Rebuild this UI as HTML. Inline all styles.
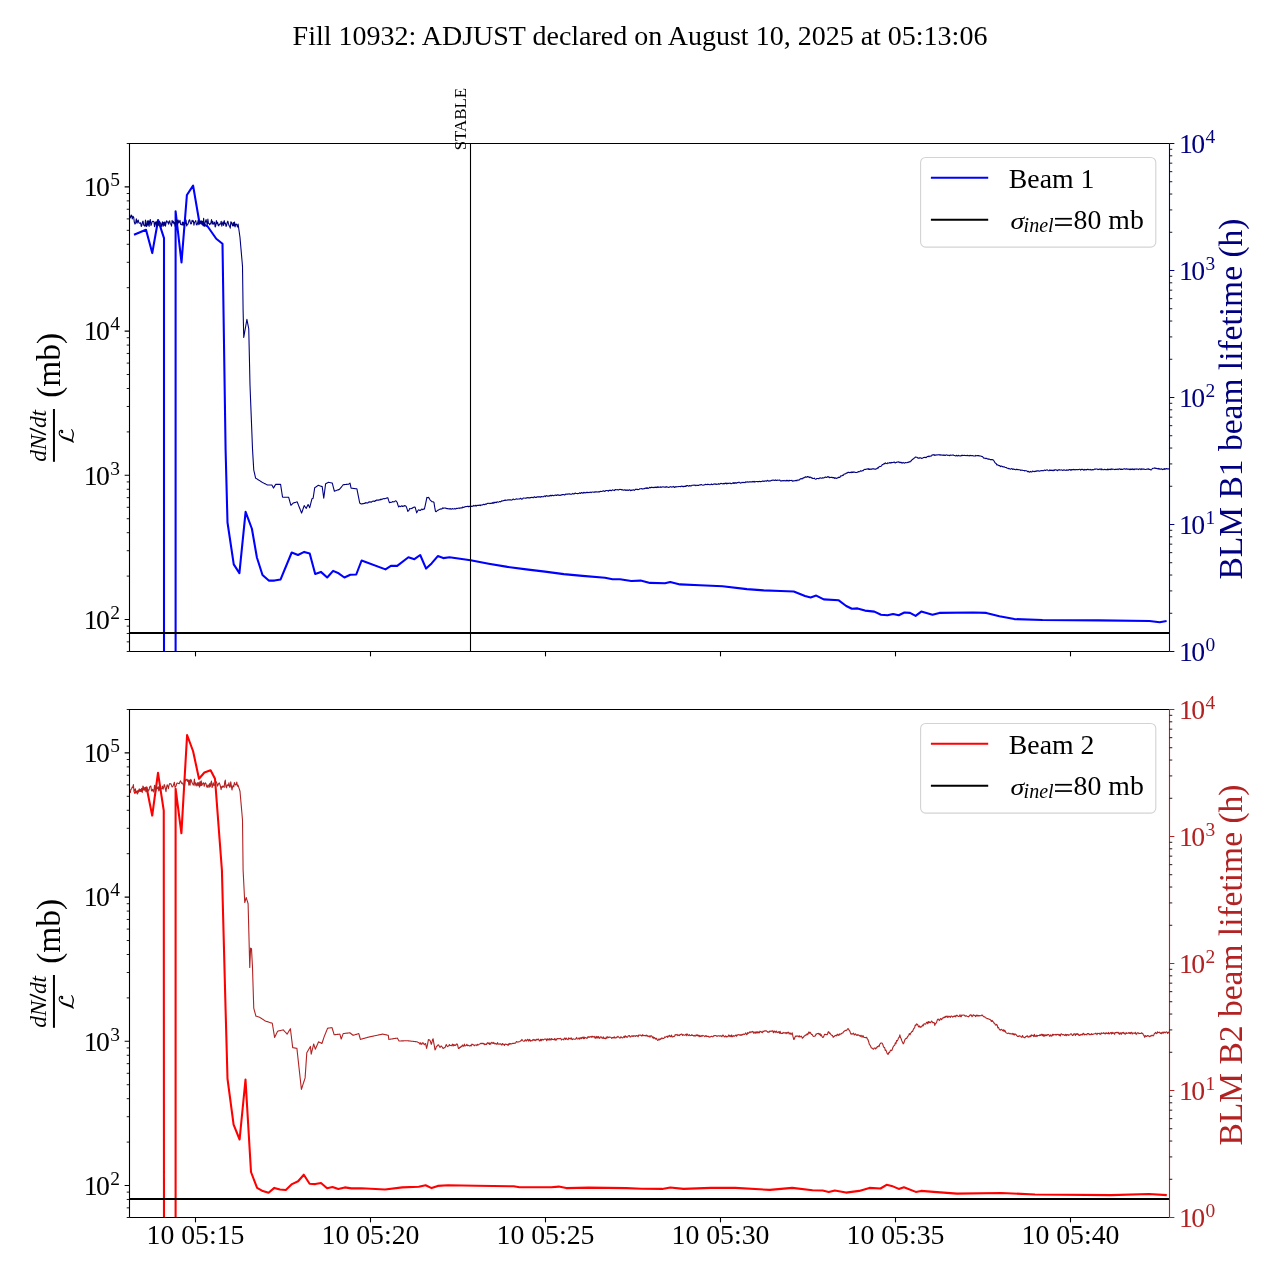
<!DOCTYPE html>
<html><head><meta charset="utf-8"><title>Fill 10932</title>
<style>html,body{margin:0;padding:0;background:#fff;width:1280px;height:1280px;overflow:hidden}svg{display:block;will-change:transform}</style>
</head><body>
<svg width="1280" height="1280" viewBox="0 0 1280 1280">
<rect width="1280" height="1280" fill="#fff"/>
<defs><clipPath id="c0"><rect x="129.5" y="143.5" width="1040.0" height="508"/></clipPath><clipPath id="c1"><rect x="129.5" y="709.5" width="1040.0" height="508"/></clipPath></defs>
<text x="640" y="44.8" text-anchor="middle" font-family="'Liberation Serif', serif" font-size="28" fill="#000">Fill 10932: ADJUST declared on August 10, 2025 at 05:13:06</text>
<g clip-path="url(#c0)">
<path d="M134 234.75 L146 229.75 L152.25 253.1 L158.1 220 L164 238.1 L164 720 L175.6 720 L175.6 211.25 L181.5 262.5 L186.9 195 L193.1 185.6 L199.4 222.5 L207.5 226.25 L216.25 238.75 L222.5 243.75 L225.6 450 L227.5 522.5 L233.75 564.4 L239.4 573.1 L245.6 511.9 L251.9 528.75 L256.9 557.5 L262.5 575 L268.75 580.6 L274.4 580.6 L280.6 579.4 L291.7 552.5 L298 555 L304.2 551.9 L309.7 553.4 L315.2 574 L320.9 571.9 L327.2 577.5 L333.1 570.9 L338.6 573.3 L344.4 577.5 L350.3 574.8 L356.25 574.5 L361.6 560.5 L385.5 569.4 L390.9 565.9 L397.2 565.9 L408.4 557.2 L414.4 559.2 L420.2 555 L426.1 568.6 L431.6 563.4 L437.8 556.1 L443.3 558.1 L449.5 557.3 L470.6 560.3 L488.75 563.75 L507.5 566.9 L526.25 569.4 L545 571.6 L563.75 574.1 L582.5 575.9 L605 577.8 L612.5 579.3 L620 579.3 L631.25 581 L640.6 580.6 L650 582.9 L665 583.25 L670.25 582.1 L680 584.4 L700 585.3 L722.5 586.25 L746.9 589.1 L763.75 590.4 L780.6 591 L793.75 591.5 L805 596 L810.6 597.5 L816.25 595.6 L823.75 599.4 L838.75 600.3 L846.25 606 L851.9 608.75 L857.5 608.4 L865 610.6 L874.4 611.6 L881 614.75 L887.5 615.3 L893.1 614 L898.75 615.3 L904.4 612.5 L910 612.9 L915.6 615.9 L921.25 611.6 L932.5 614.75 L939.4 612.9 L973.1 612.5 L986.25 612.9 L999.4 616.25 L1014.4 619.1 L1042.5 620 L1098.75 620.4 L1149.4 621 L1159.7 622.25 L1166.6 621" fill="none" stroke="#0000ff" stroke-width="2.08" stroke-linejoin="round"/>
<line x1="129.5" y1="633" x2="1169.5" y2="633" stroke="#000" stroke-width="2.08"/>
<path d="M129.5 214.1 L130.2 218.03 L130.9 216.29 L131.6 215.14 L132.3 218.91 L133 216.4 L133.67 217.05 L134.33 222.31 L135 224.09 L135.67 222.65 L136.33 218.83 L137 223.29 L137.61 221.04 L138.21 220.05 L138.82 222.7 L139.42 223.23 L140.03 223.13 L140.63 222.88 L141.24 226.37 L141.84 225.39 L142.45 222.05 L143.05 221.1 L143.66 224.99 L144.26 225.53 L144.87 226.27 L145.47 220.17 L146.08 226.02 L146.68 226.5 L147.29 220.71 L147.89 225.26 L148.5 220.86 L149.11 226.5 L149.71 221.11 L150.32 219.49 L150.92 225.51 L151.53 224.01 L152.13 221.68 L152.74 221.32 L153.34 221.26 L153.95 221.9 L154.55 226.78 L155.16 222.54 L155.76 221.96 L156.37 226.11 L156.97 221.31 L157.58 222.06 L158.18 225.67 L158.79 221.86 L159.39 221.35 L160 222.36 L160.61 223.15 L161.21 226.88 L161.82 224.39 L162.42 221.85 L163.03 226.46 L163.64 222.21 L164.24 225.32 L164.85 221.82 L165.45 226.17 L166.06 222.89 L166.67 220.71 L167.27 221.96 L167.88 222.05 L168.48 224.19 L169.09 221.47 L169.7 220.76 L170.3 223.86 L170.91 224.19 L171.52 226.1 L172.12 220.3 L172.73 222.81 L173.33 221.26 L173.94 223.76 L174.55 222.39 L175.15 226.32 L175.76 224.44 L176.36 219.5 L176.97 220.07 L177.58 224.41 L178.18 220.03 L178.79 222.95 L179.39 221.87 L180 220.28 L180.61 224.5 L181.21 224.49 L181.82 224.83 L182.42 221.99 L183.03 225.49 L183.64 222.38 L184.24 225.22 L184.85 223.68 L185.45 223.39 L186.06 220.16 L186.67 225.99 L187.27 224.28 L187.88 224.31 L188.48 222.41 L189.09 220.11 L189.7 219.75 L190.3 222.62 L190.91 224 L191.52 223.44 L192.12 220.2 L192.73 221.41 L193.33 220.76 L193.94 225.25 L194.55 222.26 L195.15 221.51 L195.76 220.68 L196.36 224.55 L196.97 225.01 L197.58 223.09 L198.18 220.22 L198.79 224.69 L199.39 223.87 L200 221.07 L200.61 222.2 L201.21 220.7 L201.82 223.35 L202.42 221.38 L203.03 225.66 L203.64 218.24 L204.24 226.42 L204.85 223.96 L205.45 221.41 L206.06 219.57 L206.67 222.2 L207.27 224.79 L207.88 219.02 L208.48 223.54 L209.09 223.56 L209.7 224.71 L210.3 223.94 L210.91 222.61 L211.52 219.66 L212.12 224.17 L212.73 221.36 L213.33 224.1 L213.94 223.58 L214.55 222.18 L215.15 227.04 L215.76 225.66 L216.36 220.54 L216.97 223.73 L217.58 222.15 L218.18 225.38 L218.79 225.81 L219.39 223.95 L220 224.42 L220.6 223.94 L221.21 221.23 L221.81 226.18 L222.41 223.37 L223.02 222.02 L223.62 225.48 L224.22 220.56 L224.83 223.59 L225.43 223.17 L226.03 226.5 L226.64 225.29 L227.24 222.34 L227.84 221.13 L228.45 223.57 L229.05 225.68 L229.65 226.39 L230.26 228.17 L230.86 221.82 L231.46 222.29 L232.07 224.56 L232.67 225.9 L233.27 222.53 L233.88 225.98 L234.48 221.93 L235.08 226.83 L235.69 224.33 L236.29 224.13 L236.89 225.01 L237.5 226.97 L238.1 224 L238.73 228.5 L239.37 233 L240 237.5 L240.62 244.69 L241.25 251.88 L241.88 259.06 L242.5 266.25 L243.1 310 L243.75 337.5 L244.38 333.88 L245.01 330.26 L245.64 326.64 L246.27 323.02 L246.9 319.4 L247.52 322.52 L248.13 325.63 L248.75 328.75 L249.38 356.88 L250 385 L250.62 400.94 L251.25 416.88 L251.88 432.81 L252.5 448.75 L253.12 459.38 L253.75 470 L254.37 472.7 L254.98 475.4 L255.6 478.1 L256.23 478.5 L256.85 478.9 L257.48 479.3 L258.11 479.7 L258.74 480.1 L259.36 480.5 L259.99 480.9 L260.62 481.3 L261.25 481.7 L261.87 482.1 L262.5 482.5 L263.12 482.81 L263.75 483.12 L264.38 483.44 L265 483.75 L265.62 484.06 L266.25 484.38 L266.88 484.69 L267.5 485 L268.13 485 L268.76 485 L269.39 485 L270.01 485 L270.64 485 L271.27 485 L271.9 485 L272.7 486.55 L273.5 488.1 L274.2 486.87 L274.9 485.63 L275.6 484.4 L276.23 484.4 L276.85 484.4 L277.48 484.4 L278.1 484.4 L278.73 484.4 L279.35 484.4 L279.98 484.4 L280.6 484.4 L281.23 488.57 L281.87 492.73 L282.5 496.9 L283.1 497.2 L283.71 497.2 L284.32 497.2 L284.93 497.2 L285.54 497.2 L286.16 497.2 L286.77 497.2 L287.38 497.2 L287.99 497.2 L288.6 497.2 L289.37 499.9 L290.13 502.6 L290.9 505.3 L291.5 504.73 L292.1 504.15 L292.7 503.57 L293.3 503 L293.95 502.82 L294.6 502.63 L295.25 502.45 L295.9 502.27 L296.55 502.08 L297.2 501.9 L297.83 503.5 L298.46 505.1 L299.09 506.7 L299.71 508.3 L300.34 509.9 L300.97 511.5 L301.6 513.1 L302.25 511.23 L302.9 509.35 L303.55 507.48 L304.2 505.6 L304.88 506.53 L305.57 507.47 L306.25 508.4 L306.87 507.1 L307.48 505.8 L308.1 504.5 L308.9 506.1 L309.7 507.7 L310.47 504.72 L311.23 501.73 L312 498.75 L313.1 498.3 L313.9 493.05 L314.7 487.8 L315.3 487.38 L315.9 486.97 L316.5 486.55 L317.1 486.13 L317.7 485.72 L318.3 485.3 L318.95 485.52 L319.6 485.73 L320.25 485.95 L320.9 486.17 L321.55 486.38 L322.2 486.6 L322.98 492.45 L323.75 498.3 L324.37 493.45 L324.98 488.6 L325.6 483.75 L326.3 483.39 L327 483.02 L327.7 482.66 L328.4 482.3 L329.05 482.43 L329.7 482.57 L330.35 482.7 L331 482.83 L331.65 482.97 L332.3 483.1 L333 485.82 L333.7 488.53 L334.4 491.25 L335.02 491.02 L335.65 490.79 L336.27 490.56 L336.9 490.32 L337.52 490.09 L338.15 489.86 L338.77 489.63 L339.4 489.4 L340.05 488.62 L340.7 487.83 L341.35 487.05 L342 486.27 L342.65 485.48 L343.3 484.7 L343.91 484.64 L344.51 484.59 L345.12 484.53 L345.72 484.48 L346.33 484.42 L346.93 484.37 L347.54 484.31 L348.14 484.26 L348.75 484.2 L349.38 483.65 L350 483.1 L351.1 488.1 L351.74 488.19 L352.39 488.28 L353.03 488.37 L353.68 488.46 L354.32 488.54 L354.97 488.63 L355.61 488.72 L356.26 488.81 L356.9 488.9 L357.6 492.42 L358.3 495.95 L359 499.48 L359.7 503 L360.48 503.5 L361.25 504 L361.85 503.86 L362.46 503.63 L363.06 503.89 L363.66 503.52 L364.27 503.31 L364.87 503.37 L365.47 502.61 L366.08 502.95 L366.68 502.69 L367.28 503.09 L367.89 502.92 L368.49 502.13 L369.09 502.2 L369.7 501.72 L370.3 501.89 L370.9 502.13 L371.51 502.08 L372.11 501.52 L372.71 501.23 L373.32 500.96 L373.92 501.25 L374.52 501.43 L375.13 500.49 L375.73 501.01 L376.34 500.11 L376.94 500.15 L377.54 500.05 L378.15 500.37 L378.75 499.87 L379.35 499.76 L379.96 499.89 L380.56 499.24 L381.16 499.73 L381.77 498.99 L382.37 499.24 L382.97 498.84 L383.58 498.65 L384.18 498.85 L384.78 498.62 L385.39 498.42 L385.99 498.32 L386.59 498.3 L387.2 497.8 L387.8 497.7 L388.6 500.38 L389.4 502.64 L390.04 502.38 L390.67 502.56 L391.31 502.18 L391.95 502.27 L392.58 501.51 L393.22 501.87 L393.85 501.79 L394.49 501.74 L395.13 501.01 L395.76 500.86 L396.4 501.32 L397.18 502.52 L397.97 505.2 L398.75 506.99 L399.39 506.16 L400.03 506.19 L400.67 506.61 L401.31 506.07 L401.95 505.83 L402.6 506.5 L403.24 506.01 L403.88 506.31 L404.52 505.57 L405.16 505.78 L405.8 505.99 L406.47 507.13 L407.13 509.13 L407.8 511.43 L408.43 510.88 L409.07 510.15 L409.7 508.52 L410.31 508.73 L410.92 508.8 L411.53 508.37 L412.14 508.37 L412.76 507.7 L413.37 507.4 L413.98 507.26 L414.59 507.02 L415.2 507.35 L415.95 510.06 L416.7 512.87 L417.5 511.2 L418.3 509.98 L418.92 509.86 L419.54 510.36 L420.16 510.37 L420.78 510.17 L421.4 509.2 L422.02 509.02 L422.64 509.77 L423.26 509.14 L423.88 509.3 L424.5 508.73 L425.3 505.07 L426.1 501.32 L426.9 497.43 L427.67 497.77 L428.43 497.35 L429.2 498.2 L430 499.79 L430.8 500.58 L431.42 501.17 L432.04 501.78 L432.66 501.77 L433.28 501.88 L433.9 502.17 L434.7 507.21 L435.5 511.42 L436.27 511.66 L437.03 510.94 L437.8 510.2 L438.42 510.13 L439.04 509.67 L439.66 509.21 L440.28 509.18 L440.9 508.85 L441.52 509.1 L442.14 508.69 L442.76 507.92 L443.38 508.34 L444 507.94 L444.61 508.09 L445.22 508.25 L445.82 507.95 L446.43 508.56 L447.04 508.66 L447.65 508.59 L448.25 508.77 L448.86 508.89 L449.47 508.64 L450.08 509.08 L450.68 508.54 L451.29 508.93 L451.9 509.17 L452.5 508.61 L453.11 508.86 L453.71 509.04 L454.31 508.92 L454.92 508.43 L455.52 509.04 L456.12 508.67 L456.73 508.24 L457.33 508.46 L457.93 508.27 L458.54 508.13 L459.14 507.89 L459.74 508.4 L460.35 507.94 L460.95 507.9 L461.55 507.86 L462.16 507.98 L462.76 506.92 L463.36 507.42 L463.97 507.44 L464.57 506.86 L465.17 506.9 L465.78 506.45 L466.38 506.5 L466.98 506.58 L467.59 506.2 L468.19 506.25 L468.79 506.81 L469.4 506.35 L470 506.21 L470.62 506.61 L471.25 506.16 L471.88 506.53 L472.5 506.11 L473.12 506.23 L473.75 505.44 L474.38 505.9 L475 506.01 L475.62 505.24 L476.25 506.07 L476.88 505.24 L477.5 505.5 L478.12 505.14 L478.75 505.41 L479.38 505.47 L480 504.86 L480.61 505.63 L481.22 504.99 L481.83 504.97 L482.44 504.93 L483.06 504.58 L483.67 504.38 L484.28 504.63 L484.89 504.42 L485.5 504.02 L486.11 504.34 L486.72 503.8 L487.33 503.4 L487.94 503.51 L488.56 503.19 L489.17 503.19 L489.78 503.67 L490.39 503.19 L491 503.58 L491.61 503.31 L492.22 502.49 L492.83 503.32 L493.44 503.15 L494.06 502.16 L494.67 502.88 L495.28 502.29 L495.89 502.22 L496.5 502.59 L497.11 501.75 L497.72 501.91 L498.33 502.2 L498.94 501.87 L499.56 501.5 L500.17 501.89 L500.78 501.61 L501.39 501.28 L502 500.68 L502.61 501.07 L503.22 500.78 L503.83 500.41 L504.44 500.14 L505.06 500.5 L505.67 499.98 L506.28 500.18 L506.89 500.29 L507.5 499.96 L508.1 499.7 L508.71 499.96 L509.31 499.74 L509.92 500.04 L510.52 499.73 L511.13 500.13 L511.73 500.03 L512.34 499.75 L512.94 499.19 L513.55 499.01 L514.15 499.73 L514.76 499.56 L515.36 499.34 L515.97 499.01 L516.57 498.86 L517.18 499.22 L517.78 499.04 L518.39 499 L518.99 498.98 L519.6 499.04 L520.2 498.42 L520.81 498.42 L521.41 499.09 L522.02 498.96 L522.62 498.87 L523.23 497.97 L523.83 497.93 L524.44 498.08 L525.04 498.17 L525.65 498.31 L526.25 497.73 L526.85 498.11 L527.46 497.58 L528.06 497.53 L528.67 498.06 L529.27 497.87 L529.88 497.89 L530.48 497.57 L531.09 497.62 L531.69 497.29 L532.3 497.36 L532.9 497.7 L533.51 497.74 L534.11 496.91 L534.72 496.9 L535.32 497.53 L535.93 497.28 L536.53 497.37 L537.14 496.75 L537.74 496.9 L538.35 496.67 L538.95 497.16 L539.56 496.66 L540.16 496.89 L540.77 497.16 L541.37 496.44 L541.98 496.6 L542.58 496.74 L543.19 496.85 L543.79 496.3 L544.4 496.18 L545 495.85 L545.6 496.57 L546.21 495.72 L546.81 495.67 L547.42 496.1 L548.02 495.96 L548.63 496.11 L549.23 495.67 L549.84 496.09 L550.44 495.34 L551.05 495.42 L551.65 495.82 L552.26 495.18 L552.86 495.35 L553.47 495.72 L554.07 495.63 L554.68 495.17 L555.28 494.97 L555.89 495.14 L556.49 495.45 L557.1 495.04 L557.7 494.73 L558.31 495.27 L558.91 495.08 L559.52 495.37 L560.12 495.34 L560.73 495.26 L561.33 494.73 L561.94 495.04 L562.54 494.49 L563.15 494.45 L563.75 494.47 L564.35 494.96 L564.96 494.86 L565.56 494.16 L566.17 494.22 L566.77 494.17 L567.38 494.11 L567.98 494.09 L568.59 494.03 L569.19 493.78 L569.8 494.1 L570.4 494.28 L571.01 493.97 L571.61 494.21 L572.22 493.88 L572.82 493.44 L573.43 493.97 L574.03 494.04 L574.64 493.38 L575.24 493.07 L575.85 493.51 L576.45 493.48 L577.06 493.45 L577.66 493.8 L578.27 493.43 L578.87 493.53 L579.48 492.73 L580.08 493.16 L580.69 493.35 L581.29 492.59 L581.9 492.54 L582.5 493.14 L583.1 493.25 L583.71 492.38 L584.31 492.88 L584.92 492.34 L585.52 492.89 L586.13 492.74 L586.73 492.28 L587.34 492.21 L587.94 492.7 L588.55 492.41 L589.15 492.6 L589.76 492.18 L590.36 492.07 L590.97 492.65 L591.57 492.3 L592.18 492.07 L592.78 492.06 L593.39 492.19 L593.99 492.13 L594.6 492.28 L595.2 491.73 L595.81 492.09 L596.41 491.88 L597.02 492.01 L597.62 491.92 L598.23 491.89 L598.83 491.9 L599.44 491.91 L600.04 491.54 L600.65 491.38 L601.25 491.51 L601.85 491.55 L602.46 491.12 L603.06 491.07 L603.67 490.74 L604.27 491.28 L604.88 491.48 L605.48 490.81 L606.09 490.55 L606.69 490.54 L607.3 490.71 L607.9 490.52 L608.51 491.15 L609.11 490.19 L609.72 490.39 L610.32 490.14 L610.93 490.62 L611.53 490.7 L612.14 490.05 L612.74 489.88 L613.35 490.23 L613.95 490.3 L614.56 490.57 L615.16 489.65 L615.77 489.67 L616.37 489.69 L616.98 489.68 L617.58 489.64 L618.19 490.07 L618.79 489.9 L619.4 489.48 L620 489.38 L620.62 489.51 L621.25 489.43 L621.88 490.05 L622.5 489.63 L623.12 489.9 L623.75 490.2 L624.38 489.89 L625 489.7 L625.62 490.36 L626.25 490.42 L626.88 489.88 L627.5 490.11 L628.12 490.55 L628.75 490.11 L629.38 489.88 L630 489.74 L630.62 490.67 L631.25 490.55 L631.86 490.05 L632.47 490.12 L633.07 490.02 L633.68 489.7 L634.29 490.33 L634.9 489.92 L635.51 489.42 L636.11 489.11 L636.72 489.49 L637.33 489.31 L637.94 489.65 L638.55 489.49 L639.16 489.3 L639.76 488.77 L640.37 488.69 L640.98 488.77 L641.59 488.63 L642.2 489.16 L642.8 488.73 L643.41 488.77 L644.02 489.04 L644.63 488.23 L645.24 488.42 L645.84 487.95 L646.45 488.49 L647.06 487.64 L647.67 488.38 L648.28 488.33 L648.89 488.22 L649.49 487.4 L650.1 487.51 L650.71 487.87 L651.32 487.17 L651.93 487.47 L652.53 487.38 L653.14 487.79 L653.75 487.34 L654.36 487.6 L654.97 487.03 L655.57 487.51 L656.18 487.13 L656.79 487.62 L657.4 486.78 L658.01 487.51 L658.61 486.88 L659.22 487.21 L659.83 487.18 L660.44 486.8 L661.05 487.47 L661.66 486.94 L662.26 486.93 L662.87 486.68 L663.48 486.9 L664.09 487.06 L664.7 487.29 L665.3 486.93 L665.91 487.25 L666.52 486.66 L667.13 486.94 L667.74 486.99 L668.34 487.49 L668.95 487.34 L669.56 487.16 L670.17 486.51 L670.78 486.86 L671.39 487.19 L671.99 486.7 L672.6 487.02 L673.21 486.91 L673.82 486.45 L674.43 487.42 L675.03 487.22 L675.64 486.62 L676.25 487.02 L676.86 486.64 L677.47 486.68 L678.08 486.79 L678.69 486.5 L679.29 486.49 L679.9 486.5 L680.51 486.73 L681.12 486.27 L681.73 486.16 L682.34 486.64 L682.95 486.19 L683.56 486.76 L684.17 486.33 L684.78 486.44 L685.38 486 L685.99 486.45 L686.6 485.66 L687.21 485.66 L687.82 485.57 L688.43 486.1 L689.04 486.09 L689.65 485.51 L690.26 485.68 L690.87 486.07 L691.47 485.77 L692.08 485.22 L692.69 485.31 L693.3 485.19 L693.91 485.11 L694.52 485.35 L695.13 484.96 L695.74 485.76 L696.35 485.22 L696.96 485.26 L697.56 485.34 L698.17 485.41 L698.78 485.42 L699.39 484.93 L700 484.83 L700.6 484.88 L701.2 484.44 L701.8 484.79 L702.41 485.06 L703.01 485.3 L703.61 485.07 L704.21 484.91 L704.81 484.82 L705.41 484.2 L706.01 484.47 L706.61 484.45 L707.22 484.72 L707.82 484.14 L708.42 484.38 L709.02 484.47 L709.62 484.71 L710.22 484.71 L710.82 484.47 L711.42 483.98 L712.03 484.55 L712.63 484.65 L713.23 484.26 L713.83 484.03 L714.43 484.14 L715.03 483.74 L715.63 484.28 L716.23 484.52 L716.84 484.01 L717.44 484.17 L718.04 484.26 L718.64 483.58 L719.24 484.3 L719.84 483.94 L720.44 483.48 L721.04 483.33 L721.65 483.45 L722.25 483.75 L722.85 483.83 L723.45 483.43 L724.05 483.99 L724.65 483.39 L725.25 483.46 L725.86 483.08 L726.46 483.89 L727.06 483.02 L727.66 483.75 L728.26 483.36 L728.86 483.34 L729.46 483.3 L730.06 482.97 L730.67 483.58 L731.27 483.63 L731.87 483.41 L732.47 483.16 L733.07 482.65 L733.67 483.31 L734.27 482.74 L734.87 483.31 L735.48 482.62 L736.08 482.92 L736.68 483.14 L737.28 482.46 L737.88 482.79 L738.48 482.28 L739.08 482.2 L739.68 482.31 L740.29 483.08 L740.89 483 L741.49 482.68 L742.09 482.29 L742.69 482.62 L743.29 482.65 L743.89 482.26 L744.49 482.44 L745.1 482.61 L745.7 481.79 L746.3 481.94 L746.9 482.17 L747.51 481.8 L748.12 482 L748.73 482.15 L749.34 481.71 L749.95 482.01 L750.57 481.72 L751.18 481.98 L751.79 481.7 L752.4 481.97 L753.01 481.32 L753.62 481.92 L754.23 481.35 L754.84 482.12 L755.45 481.72 L756.06 481.55 L756.67 481.45 L757.28 481.62 L757.9 481.65 L758.51 481.67 L759.12 481.63 L759.73 481.32 L760.34 481.79 L760.95 481.59 L761.56 481.56 L762.17 481.08 L762.78 481.06 L763.39 481.15 L764 481.45 L764.62 481.03 L765.23 480.99 L765.84 480.85 L766.45 481.28 L767.06 480.66 L767.67 480.35 L768.28 480.98 L768.89 481.11 L769.5 480.9 L770.11 480.73 L770.72 480.84 L771.33 480.35 L771.95 480.6 L772.56 480.04 L773.17 480.05 L773.78 480.33 L774.39 480.34 L775 480.2 L775.61 479.87 L776.21 480.53 L776.82 480.38 L777.42 480.11 L778.03 480.19 L778.64 480.3 L779.24 480.16 L779.85 480.01 L780.45 480.87 L781.06 480.94 L781.66 480.66 L782.27 480.88 L782.88 480.45 L783.48 480.85 L784.09 480.29 L784.69 480.83 L785.3 480.67 L785.91 481.02 L786.51 480.23 L787.12 480.95 L787.72 480.29 L788.33 480.73 L788.94 481.16 L789.54 480.22 L790.15 480.49 L790.75 480.56 L791.36 480.6 L791.96 480.36 L792.57 481.21 L793.18 481.14 L793.78 480.74 L794.39 480.72 L794.99 480.97 L795.6 480.45 L796.23 480.19 L796.86 480.82 L797.48 479.99 L798.11 479.94 L798.74 480.14 L799.37 479.94 L799.99 479.2 L800.62 478.7 L801.25 478.55 L801.88 478.93 L802.51 478.67 L803.13 477.73 L803.76 478.13 L804.39 477.41 L805.02 477.29 L805.64 476.75 L806.27 477.22 L806.9 477.1 L807.52 476.46 L808.15 477.05 L808.77 476.77 L809.39 477.62 L810.02 476.95 L810.64 477.17 L811.26 477.95 L811.89 477.69 L812.51 478.44 L813.13 478.57 L813.76 478.57 L814.38 478.15 L815 478.88 L815.63 479.28 L816.25 478.95 L816.88 478.46 L817.5 478.49 L818.12 478.46 L818.75 478.74 L819.38 478.11 L820 477.98 L820.62 477.92 L821.25 478.23 L821.88 478.24 L822.5 477.71 L823.12 477.88 L823.75 477.98 L824.38 477.57 L825 477.1 L825.62 477.05 L826.25 477.56 L826.88 477.18 L827.5 476.68 L828.13 477.14 L828.75 476.69 L829.38 477.68 L830.01 477.24 L830.63 477.43 L831.26 477.53 L831.89 477.15 L832.51 477.8 L833.14 477.58 L833.77 477.65 L834.39 478.3 L835.02 477.69 L835.65 477.99 L836.27 478.56 L836.9 478.15 L837.52 477.84 L838.14 477.76 L838.77 477.06 L839.39 477.43 L840.01 477.18 L840.63 475.88 L841.26 475.97 L841.88 475.92 L842.5 475.21 L843.12 475.41 L843.74 474.64 L844.37 473.98 L844.99 474.01 L845.61 473.76 L846.23 473.13 L846.86 473.09 L847.48 472.87 L848.1 472.27 L848.73 472.26 L849.35 472.6 L849.98 472.43 L850.61 472.27 L851.23 472.7 L851.86 471.92 L852.49 472.53 L853.11 471.92 L853.74 472.36 L854.37 471.99 L854.99 472.19 L855.62 472.52 L856.25 472.54 L856.87 472.54 L857.5 471.99 L858.13 472.03 L858.75 471.55 L859.38 471.7 L860.01 471.41 L860.63 470.74 L861.26 471.09 L861.89 470.99 L862.51 470.64 L863.14 470.73 L863.77 469.83 L864.39 469.59 L865.02 469.25 L865.65 469.52 L866.27 469.24 L866.9 469.04 L867.52 468.86 L868.15 469.4 L868.77 468.67 L869.39 469.51 L870.02 469.17 L870.64 469.14 L871.26 469.39 L871.89 468.84 L872.51 468.75 L873.13 468.91 L873.76 468.64 L874.38 468.91 L875 469.22 L875.63 469.13 L876.25 468.86 L876.85 468.78 L877.46 467.87 L878.06 468.2 L878.66 467.14 L879.27 466.82 L879.87 466.32 L880.48 466.44 L881.08 466.17 L881.68 465.72 L882.29 464.59 L882.89 464.53 L883.49 464.08 L884.1 463.52 L884.7 463.87 L885.31 462.89 L885.92 463.28 L886.53 463.49 L887.14 463.66 L887.75 462.76 L888.37 463.02 L888.98 463.25 L889.59 462.49 L890.2 462.63 L890.81 463.22 L891.42 462.42 L892.03 462.61 L892.64 462.46 L893.25 462.53 L893.86 462.13 L894.47 462.03 L895.08 462.94 L895.7 462.65 L896.31 462.56 L896.92 462 L897.53 461.97 L898.14 462.21 L898.75 461.84 L899.38 462.17 L900.01 462.75 L900.63 462.3 L901.26 462.38 L901.89 463.14 L902.52 462.88 L903.14 462.42 L903.77 462.89 L904.4 463.25 L905.02 462.49 L905.64 462.61 L906.27 462.79 L906.89 462.8 L907.51 462.36 L908.13 462.49 L908.76 461.9 L909.38 461.66 L910 461.94 L910.62 461 L911.24 460.91 L911.87 459.87 L912.49 459.51 L913.11 458.87 L913.73 458.75 L914.36 457.88 L914.98 457.44 L915.6 456.96 L916.2 457.32 L916.8 457.27 L917.4 457.51 L918 458.16 L918.6 457.95 L919.2 458.24 L919.8 457.69 L920.4 457.97 L921 457.76 L921.6 458.49 L922.2 458.26 L922.82 457.99 L923.44 457.54 L924.07 457.52 L924.69 457.41 L925.31 457.35 L925.93 457.69 L926.56 457.29 L927.18 456.66 L927.8 456.56 L928.42 456.16 L929.04 456.76 L929.67 455.99 L930.29 456.21 L930.91 455.98 L931.53 455.97 L932.16 454.9 L932.78 455.01 L933.4 454.88 L934.01 454.6 L934.61 455.41 L935.22 454.86 L935.82 455.32 L936.43 455.08 L937.03 454.63 L937.64 454.98 L938.24 454.84 L938.85 454.66 L939.45 454.78 L940.06 455.24 L940.66 454.69 L941.27 454.98 L941.87 455.1 L942.48 455.24 L943.08 454.84 L943.69 455.42 L944.29 454.99 L944.9 455.47 L945.5 455.42 L946.11 454.92 L946.71 454.99 L947.32 455.08 L947.92 455.52 L948.53 455.23 L949.13 455.22 L949.74 455.71 L950.34 455.09 L950.95 455.16 L951.55 455.23 L952.16 455.11 L952.76 454.95 L953.37 454.95 L953.97 455.57 L954.58 455.51 L955.18 455.77 L955.79 455.95 L956.39 455.29 L957 455.67 L957.61 455.93 L958.21 455.24 L958.82 455.73 L959.42 455.72 L960.03 456.02 L960.63 455.95 L961.24 455.32 L961.84 455.74 L962.45 455.21 L963.05 455.56 L963.66 455.53 L964.26 455.21 L964.87 455.55 L965.47 455.51 L966.08 455.69 L966.68 455.48 L967.29 455.38 L967.89 455.63 L968.5 455.72 L969.1 455.42 L969.71 455.93 L970.31 455.52 L970.92 455.39 L971.52 455.65 L972.13 455.74 L972.73 455.48 L973.34 455.93 L973.94 456.06 L974.55 455.92 L975.15 456.08 L975.76 455.42 L976.36 455.8 L976.97 455.79 L977.57 455.5 L978.18 455.85 L978.78 455.52 L979.39 455.97 L979.99 456.07 L980.6 455.97 L981.23 456.19 L981.87 456.49 L982.5 456.62 L983.13 457.31 L983.77 458.23 L984.4 458.27 L985.05 458.08 L985.69 458.6 L986.34 458.23 L986.98 458.63 L987.63 458.89 L988.28 459.35 L988.92 458.87 L989.57 459.2 L990.22 459.68 L990.86 459.63 L991.51 459.6 L992.15 459.71 L992.8 459.61 L993.47 460.42 L994.14 461.08 L994.81 462.43 L995.49 463.28 L996.16 463.58 L996.83 464.91 L997.5 464.84 L998.12 465.11 L998.75 465.66 L999.38 465.64 L1000 465.87 L1000.62 466.67 L1001.25 466.02 L1001.88 466.24 L1002.5 466.45 L1003.12 467.08 L1003.75 466.81 L1004.38 466.76 L1005 467.48 L1005.62 467.51 L1006.25 467.53 L1006.88 467.96 L1007.5 468.29 L1008.12 468.37 L1008.75 468.62 L1009.37 468.63 L1010 468.98 L1010.62 469.19 L1011.24 468.63 L1011.87 468.71 L1012.49 469.33 L1013.11 468.83 L1013.74 469.3 L1014.36 469.36 L1014.98 469.42 L1015.61 469.77 L1016.23 469.7 L1016.85 469.11 L1017.48 469.65 L1018.1 469.59 L1018.73 469.79 L1019.36 469.73 L1019.98 469.77 L1020.61 470.36 L1021.24 470.27 L1021.87 470.1 L1022.49 470.24 L1023.12 470.45 L1023.75 470.43 L1024.38 470.89 L1025.01 470.63 L1025.63 470.7 L1026.26 470.83 L1026.89 470.99 L1027.52 471.72 L1028.14 471.26 L1028.77 471.72 L1029.4 472.17 L1030.02 471.81 L1030.65 471.42 L1031.27 472.05 L1031.9 471.98 L1032.52 471.1 L1033.14 471.23 L1033.77 471.41 L1034.39 471.63 L1035.01 471.15 L1035.64 471.4 L1036.26 470.87 L1036.89 471.26 L1037.51 470.8 L1038.13 470.73 L1038.76 471.09 L1039.38 471.1 L1040 471.01 L1040.63 470.68 L1041.25 470.46 L1041.88 470.68 L1042.5 470.52 L1043.1 470.72 L1043.71 470.68 L1044.31 469.99 L1044.92 470.23 L1045.52 470.52 L1046.13 470.07 L1046.73 470.01 L1047.34 469.83 L1047.94 470.39 L1048.55 470.73 L1049.15 470.75 L1049.76 469.9 L1050.36 470.45 L1050.97 470.17 L1051.57 470.37 L1052.18 470.12 L1052.78 470.65 L1053.39 470.7 L1053.99 469.74 L1054.6 470.4 L1055.2 469.79 L1055.81 469.71 L1056.41 469.94 L1057.02 470.37 L1057.62 470.62 L1058.23 469.74 L1058.83 469.94 L1059.44 469.63 L1060.04 470.13 L1060.65 470.06 L1061.25 469.94 L1061.85 469.87 L1062.46 470.35 L1063.06 470.37 L1063.67 469.81 L1064.27 469.9 L1064.88 470.12 L1065.48 470.26 L1066.09 470.46 L1066.69 469.86 L1067.3 470.15 L1067.9 469.99 L1068.51 470.24 L1069.11 469.57 L1069.72 469.59 L1070.32 469.51 L1070.93 470.33 L1071.53 469.64 L1072.14 469.86 L1072.74 469.48 L1073.35 469.68 L1073.95 469.36 L1074.56 469.9 L1075.16 469.46 L1075.77 469.93 L1076.37 469.57 L1076.98 469.51 L1077.58 469.76 L1078.19 469.63 L1078.79 469.51 L1079.4 469.3 L1080 469.3 L1080.6 470.12 L1081.21 469.52 L1081.81 469.28 L1082.42 469.37 L1083.02 469.66 L1083.63 470.17 L1084.23 469.36 L1084.84 470.01 L1085.44 469.62 L1086.05 469.54 L1086.65 469.92 L1087.26 469.5 L1087.86 469.15 L1088.47 469.63 L1089.07 469.73 L1089.68 469.68 L1090.28 469.33 L1090.89 469.98 L1091.49 469.89 L1092.1 470.01 L1092.7 469.45 L1093.31 469.83 L1093.91 469.71 L1094.52 469.15 L1095.12 468.99 L1095.73 469.12 L1096.33 469.06 L1096.94 469.01 L1097.54 469.28 L1098.15 469.66 L1098.75 469.21 L1099.35 469.41 L1099.96 468.9 L1100.56 469.1 L1101.16 469.84 L1101.76 468.89 L1102.37 469.41 L1102.97 469.69 L1103.57 469.66 L1104.18 469.6 L1104.78 469.26 L1105.38 469.66 L1105.99 469.68 L1106.59 469.62 L1107.19 469.84 L1107.79 468.95 L1108.4 469.79 L1109 469.24 L1109.6 469.54 L1110.21 469.08 L1110.81 469.74 L1111.41 468.85 L1112.02 469.4 L1112.62 469.05 L1113.22 469.2 L1113.82 469.18 L1114.43 469.46 L1115.03 469.61 L1115.63 469.16 L1116.24 469.43 L1116.84 469.15 L1117.44 469.07 L1118.05 469.69 L1118.65 469.1 L1119.25 468.87 L1119.85 469.11 L1120.46 469.51 L1121.06 468.98 L1121.66 469.51 L1122.27 469.31 L1122.87 469.44 L1123.47 468.93 L1124.08 468.86 L1124.68 468.89 L1125.28 469.09 L1125.88 469.17 L1126.49 468.75 L1127.09 469.23 L1127.69 469.13 L1128.3 469.05 L1128.9 469.26 L1129.5 469.67 L1130.1 468.92 L1130.71 469.59 L1131.31 469.03 L1131.91 469.46 L1132.52 468.81 L1133.12 469.68 L1133.72 469.12 L1134.33 469.65 L1134.93 468.91 L1135.53 469.09 L1136.13 469.38 L1136.74 468.85 L1137.34 468.94 L1137.94 469.35 L1138.55 469.61 L1139.15 468.98 L1139.75 468.84 L1140.36 469.01 L1140.96 469.64 L1141.56 468.79 L1142.16 469.28 L1142.77 469.02 L1143.37 469.28 L1143.97 468.84 L1144.58 469.24 L1145.18 469.51 L1145.78 469.48 L1146.39 469.25 L1146.99 469.12 L1147.59 469.18 L1148.19 468.72 L1148.8 469.44 L1149.4 469.29 L1150.02 469.35 L1150.63 469.87 L1151.25 469.92 L1151.87 469.25 L1152.48 468.46 L1153.1 468.2 L1153.73 468.24 L1154.35 468.25 L1154.98 467.83 L1155.61 468.49 L1156.23 468.38 L1156.86 468.59 L1157.49 468.66 L1158.11 469.06 L1158.74 468.35 L1159.37 468.74 L1159.99 469.33 L1160.62 469.14 L1161.25 468.78 L1161.87 469.27 L1162.5 469.59 L1163.14 468.95 L1163.77 469.36 L1164.41 468.56 L1165.05 469.37 L1165.68 468.82 L1166.32 468.51 L1166.95 469.06 L1167.59 468.81 L1168.23 469.05 L1168.86 468.88 L1169.5 468.5" fill="none" stroke="#000080" stroke-width="1.1" stroke-linejoin="round"/>
<line x1="470.5" y1="143.5" x2="470.5" y2="651.5" stroke="#000" stroke-width="1.1"/>
</g>
<path d="M1169.5 143.5 L129.5 143.5 L129.5 651.5" fill="none" stroke="#000" stroke-width="1.1"/>
<line x1="129.5" y1="651.5" x2="1169.5" y2="651.5" stroke="#000" stroke-width="1.1"/>
<line x1="1169.5" y1="143.5" x2="1169.5" y2="651.5" stroke="#000080" stroke-width="1.1"/>
<line x1="195.5" y1="651.5" x2="195.5" y2="656.36" stroke="#000" stroke-width="1.1"/>
<line x1="370.5" y1="651.5" x2="370.5" y2="656.36" stroke="#000" stroke-width="1.1"/>
<line x1="545.5" y1="651.5" x2="545.5" y2="656.36" stroke="#000" stroke-width="1.1"/>
<line x1="720.5" y1="651.5" x2="720.5" y2="656.36" stroke="#000" stroke-width="1.1"/>
<line x1="895.5" y1="651.5" x2="895.5" y2="656.36" stroke="#000" stroke-width="1.1"/>
<line x1="1070.5" y1="651.5" x2="1070.5" y2="656.36" stroke="#000" stroke-width="1.1"/>
<path d="M129.5 619.51 H124.64 M129.5 475.31 H124.64 M129.5 331.11 H124.64 M129.5 186.91 H124.64" stroke="#000" stroke-width="1.1" fill="none"/>
<path d="M129.5 651.5 H126.72 M129.5 641.85 H126.72 M129.5 633.48 H126.72 M129.5 626.11 H126.72 M129.5 576.1 H126.72 M129.5 550.71 H126.72 M129.5 532.69 H126.72 M129.5 518.72 H126.72 M129.5 507.3 H126.72 M129.5 497.65 H126.72 M129.5 489.28 H126.72 M129.5 481.91 H126.72 M129.5 431.9 H126.72 M129.5 406.51 H126.72 M129.5 388.49 H126.72 M129.5 374.52 H126.72 M129.5 363.1 H126.72 M129.5 353.45 H126.72 M129.5 345.08 H126.72 M129.5 337.71 H126.72 M129.5 287.7 H126.72 M129.5 262.31 H126.72 M129.5 244.29 H126.72 M129.5 230.32 H126.72 M129.5 218.9 H126.72 M129.5 209.25 H126.72 M129.5 200.88 H126.72 M129.5 193.51 H126.72 M129.5 143.5 H126.72" stroke="#000" stroke-width="0.9" fill="none"/>
<path d="M1169.5 651.5 H1174.36 M1169.5 524.5 H1174.36 M1169.5 397.5 H1174.36 M1169.5 270.5 H1174.36 M1169.5 143.5 H1174.36" stroke="#000080" stroke-width="1.1" fill="none"/>
<path d="M1169.5 613.27 H1172.28 M1169.5 590.91 H1172.28 M1169.5 575.04 H1172.28 M1169.5 562.73 H1172.28 M1169.5 552.67 H1172.28 M1169.5 544.17 H1172.28 M1169.5 536.81 H1172.28 M1169.5 530.31 H1172.28 M1169.5 486.27 H1172.28 M1169.5 463.91 H1172.28 M1169.5 448.04 H1172.28 M1169.5 435.73 H1172.28 M1169.5 425.67 H1172.28 M1169.5 417.17 H1172.28 M1169.5 409.81 H1172.28 M1169.5 403.31 H1172.28 M1169.5 359.27 H1172.28 M1169.5 336.91 H1172.28 M1169.5 321.04 H1172.28 M1169.5 308.73 H1172.28 M1169.5 298.67 H1172.28 M1169.5 290.17 H1172.28 M1169.5 282.81 H1172.28 M1169.5 276.31 H1172.28 M1169.5 232.27 H1172.28 M1169.5 209.91 H1172.28 M1169.5 194.04 H1172.28 M1169.5 181.73 H1172.28 M1169.5 171.67 H1172.28 M1169.5 163.17 H1172.28 M1169.5 155.81 H1172.28 M1169.5 149.31 H1172.28" stroke="#000" stroke-width="0.9" fill="none"/>
<text x="83.8" y="628.81" font-family="'Liberation Serif', serif" font-size="27.78" letter-spacing="-1.6" fill="#000">10</text>
<text x="110.3" y="618.71" font-family="'Liberation Serif', serif" font-size="19.44" fill="#000">2</text>
<text x="83.8" y="484.61" font-family="'Liberation Serif', serif" font-size="27.78" letter-spacing="-1.6" fill="#000">10</text>
<text x="110.3" y="474.51" font-family="'Liberation Serif', serif" font-size="19.44" fill="#000">3</text>
<text x="83.8" y="340.41" font-family="'Liberation Serif', serif" font-size="27.78" letter-spacing="-1.6" fill="#000">10</text>
<text x="110.3" y="330.31" font-family="'Liberation Serif', serif" font-size="19.44" fill="#000">4</text>
<text x="83.8" y="196.21" font-family="'Liberation Serif', serif" font-size="27.78" letter-spacing="-1.6" fill="#000">10</text>
<text x="110.3" y="186.11" font-family="'Liberation Serif', serif" font-size="19.44" fill="#000">5</text>
<text x="1179" y="660.8" font-family="'Liberation Serif', serif" font-size="27.78" letter-spacing="-1.6" fill="#000080">10</text>
<text x="1205.5" y="650.7" font-family="'Liberation Serif', serif" font-size="19.44" fill="#000080">0</text>
<text x="1179" y="533.8" font-family="'Liberation Serif', serif" font-size="27.78" letter-spacing="-1.6" fill="#000080">10</text>
<text x="1205.5" y="523.7" font-family="'Liberation Serif', serif" font-size="19.44" fill="#000080">1</text>
<text x="1179" y="406.8" font-family="'Liberation Serif', serif" font-size="27.78" letter-spacing="-1.6" fill="#000080">10</text>
<text x="1205.5" y="396.7" font-family="'Liberation Serif', serif" font-size="19.44" fill="#000080">2</text>
<text x="1179" y="279.8" font-family="'Liberation Serif', serif" font-size="27.78" letter-spacing="-1.6" fill="#000080">10</text>
<text x="1205.5" y="269.7" font-family="'Liberation Serif', serif" font-size="19.44" fill="#000080">3</text>
<text x="1179" y="152.8" font-family="'Liberation Serif', serif" font-size="27.78" letter-spacing="-1.6" fill="#000080">10</text>
<text x="1205.5" y="142.7" font-family="'Liberation Serif', serif" font-size="19.44" fill="#000080">4</text>
<g transform="translate(0 0)">
<text transform="translate(59.9 397.8) rotate(-90)" font-family="'Liberation Serif', serif" font-size="33.33" fill="#000">(mb)</text>
<rect x="52.95" y="409" width="2.0" height="52.8" fill="#000"/>
<g transform="translate(46.1 461.8) rotate(-90)"><text font-family="'Liberation Serif', serif" font-size="23.33" font-style="italic" fill="#000"><tspan x="0" y="0">dN</tspan><tspan x="33.7" y="0">dt</tspan></text><line x1="27.0" y1="-0.2" x2="33.5" y2="-16.3" stroke="#000" stroke-width="1.7"/></g>
<circle cx="62.1" cy="432.1" r="1.2" fill="#000"/>
<path d="M62.9 431.1 C61.9 429.9 59.9 430.1 59.3 432.0 C58.9 433.4 59.3 434.8 60.3 435.7" fill="none" stroke="#000" stroke-width="1.1"/>
<path d="M59.8 434.8 C61.5 435.9 63.5 436.8 65.5 437.3 C68 438.0 70.5 438.9 72 439.6 C73 440.3 73.6 441.2 73.9 442.3 L73.2 443.0 C72.5 442.2 71.8 441.7 71 441.4 C69.5 440.9 67.5 440.2 65 439.3 C63 438.7 61.2 437.6 59.8 435.8 Z" fill="#000"/>
<path d="M71.6 429.0 C72.4 429.7 73.0 430.5 73.2 431.2 C73.8 432.4 74.1 433.4 74.0 434.3 C73.9 435.5 73.6 436.5 73.3 437.5 C73.0 438.5 72.7 439.5 72.4 440.5 L71.6 440.2 C71.8 439.2 72.0 438.0 72.2 437.0 C72.4 436.1 72.6 435.2 72.6 434.3 C72.6 433.4 72.5 432.5 72.2 431.7 C71.9 431.0 71.5 430.2 71.0 429.5 Z" fill="#000"/>
</g>
<text transform="translate(1242 399.05) rotate(-90)" text-anchor="middle" font-family="'Liberation Serif', serif" font-size="33.5" fill="#000080">BLM B1 beam lifetime (h)</text>
<rect x="920.6" y="157.5" width="235.2" height="89.6" rx="5" ry="5" fill="#fff" fill-opacity="0.8" stroke="#d3d3d3" stroke-width="1.1"/>
<line x1="930.9" y1="177.8" x2="988.2" y2="177.8" stroke="#0000ff" stroke-width="2.08"/>
<line x1="930.9" y1="219.7" x2="988.2" y2="219.7" stroke="#000" stroke-width="2.08"/>
<text x="1008.8" y="187.8" font-family="'Liberation Serif', serif" font-size="27.78" fill="#000">Beam 1</text>
<text transform="translate(1010.5 229) scale(1 0.82)" font-family="'Liberation Serif', serif" font-size="27.78" font-style="italic" fill="#000">σ</text>
<text x="1023.6" y="231.9" font-family="'Liberation Serif', serif" font-size="20" font-style="italic" fill="#000">inel</text>
<rect x="1055" y="217.9" width="16.9" height="1.7" fill="#000"/><rect x="1055" y="224.2" width="16.9" height="1.7" fill="#000"/>
<text x="1073.6" y="229" font-family="'Liberation Serif', serif" font-size="27.78" fill="#000">80 mb</text>
<g clip-path="url(#c1)">
<path d="M134 793 L146.6 787.5 L152.2 815.6 L158 772.8 L163.75 810.6 L164 1280 L175.6 1280 L175.6 788.75 L181.4 833.3 L187.1 735 L193.1 751.25 L199 778.75 L204.4 772.5 L210.6 770.25 L215 778.75 L221.9 870 L225.6 1010 L227.5 1078.75 L233.6 1124.7 L239.6 1139.5 L245.5 1079.5 L251 1172 L257.1 1187.9 L262.8 1191.1 L268.6 1192.8 L274.3 1187.9 L280 1189.5 L285.8 1190 L292 1184.1 L298.1 1181.3 L303.8 1174.7 L309.6 1183.75 L315.3 1184.1 L321 1183 L327.1 1188.2 L332.5 1187 L338.3 1189 L344.8 1187.4 L351.4 1188.4 L361.3 1188.2 L385 1189.5 L402.3 1187.4 L418.7 1186.7 L425.6 1185.3 L431.6 1188.1 L437.8 1185.9 L448.1 1185.3 L476.25 1185.7 L513.75 1186.25 L519.4 1187.2 L551.25 1187.2 L558.75 1186.6 L566.25 1188.1 L588.75 1187.6 L626.25 1188.1 L641.25 1188.7 L662.2 1188.9 L670.3 1187.5 L683.5 1188.9 L710.9 1187.9 L735.3 1187.9 L769.8 1189.9 L792.2 1187.9 L812.5 1190.3 L822.7 1190.5 L828.75 1192 L834.8 1190.5 L846 1192.6 L859.2 1190.9 L869.4 1187.9 L880.5 1188.5 L886.6 1184.8 L891.7 1185.9 L898.8 1188.9 L903.9 1187.3 L915.8 1191.9 L921.1 1190.9 L933.7 1191.9 L957 1193.6 L1001.2 1193 L1035 1194.5 L1110.9 1195.1 L1148.9 1194.05 L1166.8 1195.1" fill="none" stroke="#ff0000" stroke-width="2.08" stroke-linejoin="round"/>
<line x1="129.5" y1="1199" x2="1169.5" y2="1199" stroke="#000" stroke-width="2.08"/>
<path d="M129.7 790.89 L130.31 792.56 L130.93 789.2 L131.54 789.06 L132.16 787.05 L132.77 787.53 L133.39 784.54 L134 791.43 L134.67 790.25 L135.33 788.8 L136 792.43 L136.67 791.74 L137.33 794.03 L138 792.77 L138.61 791.41 L139.22 788.81 L139.83 790.57 L140.44 791.28 L141.06 791.55 L141.67 788.31 L142.28 792.56 L142.89 786.14 L143.5 787.11 L144.11 790.66 L144.72 788.93 L145.33 788.56 L145.94 791.8 L146.56 787.2 L147.17 791.68 L147.78 791.9 L148.39 789.89 L149 790.13 L149.61 787.15 L150.22 786.31 L150.83 786.01 L151.44 790.44 L152.06 791.16 L152.67 789.26 L153.28 790.61 L153.89 792.06 L154.5 785.41 L155.11 788.44 L155.72 791.53 L156.33 785.41 L156.94 788.61 L157.56 788.63 L158.17 786.57 L158.78 790.89 L159.39 787.01 L160 790.13 L160.6 789.16 L161.2 789.07 L161.8 788.59 L162.4 786.13 L163 789.25 L163.6 787.62 L164.2 784.5 L164.8 785.9 L165.4 789.2 L166 791.71 L166.6 787.1 L167.2 784.76 L167.8 786.24 L168.4 788.7 L169 785.36 L169.6 783.64 L170.2 783.94 L170.8 783.62 L171.4 784.88 L172 786.96 L172.6 786.77 L173.2 785.74 L173.8 783.87 L174.4 782.31 L175 787.47 L175.6 786.73 L176.2 785.41 L176.8 783.32 L177.4 783.05 L178 783.17 L178.6 783.55 L179.2 783.8 L179.8 782.14 L180.4 780.86 L181 781.89 L181.6 783.38 L182.2 782.95 L182.8 783.5 L183.4 785.34 L184 785.14 L184.6 785.88 L185.2 779.34 L185.8 780.77 L186.4 779.75 L187 779.21 L187.62 781.39 L188.24 779.94 L188.86 785.11 L189.48 780.13 L190.1 785.28 L190.71 779.3 L191.33 780.21 L191.95 782.55 L192.57 783.33 L193.19 785.14 L193.81 783.67 L194.43 779.16 L195.05 785.67 L195.67 782.83 L196.29 784.24 L196.9 785.97 L197.52 782.68 L198.14 785.38 L198.76 782.53 L199.38 787.18 L200 781.48 L200.6 785.88 L201.21 780.9 L201.81 785.57 L202.41 784.3 L203.02 783.07 L203.62 782.84 L204.22 786.31 L204.83 783.54 L205.43 782.89 L206.03 783.79 L206.63 786.36 L207.24 787.37 L207.84 785.04 L208.44 784.96 L209.05 787.51 L209.65 783.49 L210.25 786.58 L210.86 783.01 L211.46 781.13 L212.06 787.55 L212.67 785.75 L213.27 782.8 L213.87 785.48 L214.48 784.98 L215.08 784.69 L215.68 781.47 L216.29 782.02 L216.89 783.15 L217.49 786.16 L218.1 784.69 L218.7 783.45 L219.3 782.93 L219.9 784.48 L220.51 786.52 L221.11 789.59 L221.71 786.55 L222.32 787.32 L222.92 785.89 L223.52 786.44 L224.13 787.5 L224.73 782 L225.33 780.09 L225.94 786.69 L226.54 787.81 L227.14 784.79 L227.75 785.23 L228.35 785.74 L228.95 782.7 L229.56 787.3 L230.16 786.97 L230.76 781.73 L231.37 785.93 L231.97 790.02 L232.57 786.96 L233.17 785.34 L233.78 786.92 L234.38 782.45 L234.98 783.93 L235.59 785.02 L236.19 784.37 L236.79 782.12 L237.4 786.14 L238 785 L238.67 787.08 L239.33 789.17 L240 791.25 L240.62 798.44 L241.25 805.62 L241.88 812.81 L242.5 820 L243.1 870 L243.93 886.25 L244.75 902.5 L245.5 900 L246.25 897.5 L246.87 899.58 L247.48 901.67 L248.1 903.75 L248.93 935.62 L249.75 967.5 L250.6 948.1 L251.5 948.75 L252.5 967.5 L253.12 987.8 L253.75 1008.1 L254.47 1010.77 L255.18 1013.43 L255.9 1016.1 L256.62 1016.32 L257.34 1016.54 L258.06 1016.76 L258.78 1016.98 L259.5 1017.2 L260.14 1017.62 L260.79 1018.04 L261.43 1018.47 L262.08 1018.89 L262.72 1019.31 L263.37 1019.73 L264.01 1020.16 L264.66 1020.58 L265.3 1021 L265.94 1021.21 L266.57 1021.42 L267.21 1021.63 L267.85 1021.84 L268.48 1022.05 L269.12 1022.25 L269.75 1022.46 L270.39 1022.67 L271.03 1022.88 L271.66 1023.09 L272.3 1023.3 L273.07 1028 L273.83 1032.7 L274.6 1037.4 L275.2 1036.16 L275.8 1034.92 L276.4 1033.68 L277 1032.44 L277.6 1031.2 L278.23 1031.06 L278.87 1030.91 L279.5 1030.77 L280.13 1030.62 L280.77 1030.48 L281.4 1030.33 L282.03 1030.19 L282.67 1030.04 L283.3 1029.9 L283.93 1030.6 L284.57 1031.3 L285.2 1032 L285.83 1032.7 L286.47 1033.4 L287.1 1034.1 L287.76 1033.02 L288.42 1031.94 L289.08 1030.86 L289.74 1029.78 L290.4 1028.7 L291.17 1035 L291.93 1041.3 L292.7 1047.6 L293.4 1047.73 L294.1 1047.87 L294.8 1048 L295.5 1048.13 L296.2 1048.27 L296.9 1048.4 L297.54 1054.26 L298.19 1060.11 L298.83 1065.97 L299.47 1071.83 L300.11 1077.69 L300.76 1083.54 L301.4 1089.4 L302.02 1087.48 L302.63 1085.57 L303.25 1083.65 L303.87 1081.73 L304.48 1079.82 L305.1 1077.9 L305.95 1065.35 L306.8 1052.8 L307.52 1051.52 L308.24 1050.24 L308.96 1048.96 L309.68 1047.68 L310.4 1046.4 L311.2 1054.1 L311.82 1051.57 L312.45 1049.05 L313.07 1046.53 L313.7 1044 L314.5 1046.6 L315.3 1049.2 L315.96 1047.72 L316.62 1046.24 L317.28 1044.76 L317.94 1043.28 L318.6 1041.8 L319.26 1042.14 L319.92 1042.48 L320.58 1042.82 L321.24 1043.16 L321.9 1043.5 L322.5 1041.72 L323.1 1039.95 L323.7 1038.18 L324.3 1036.4 L324.96 1034.76 L325.62 1033.12 L326.28 1031.48 L326.94 1029.84 L327.6 1028.2 L328.23 1028.11 L328.86 1028.03 L329.49 1027.94 L330.11 1027.86 L330.74 1027.77 L331.37 1027.69 L332 1027.6 L332.73 1030 L333.47 1032.4 L334.2 1034.8 L334.83 1034.72 L335.47 1034.64 L336.1 1034.57 L336.73 1034.49 L337.37 1034.41 L338 1034.33 L338.63 1034.26 L339.27 1034.18 L339.9 1034.1 L340.55 1036.55 L341.2 1039 L341.87 1037.2 L342.53 1035.4 L343.2 1033.6 L343.8 1033.53 L344.4 1033.45 L345 1033.38 L345.6 1033.31 L346.2 1033.24 L346.8 1033.16 L347.4 1033.09 L348 1033.02 L348.6 1032.95 L349.2 1032.87 L349.8 1032.8 L350.44 1033.3 L351.08 1033.8 L351.72 1034.3 L352.36 1034.8 L353 1035.3 L353.64 1035.11 L354.29 1034.92 L354.93 1034.73 L355.58 1034.54 L356.22 1034.36 L356.87 1034.17 L357.51 1033.98 L358.16 1033.79 L358.8 1033.6 L359.6 1036.5 L360.4 1039.4 L361.01 1039.23 L361.61 1039.07 L362.22 1038.9 L362.83 1038.73 L363.43 1038.57 L364.04 1038.4 L364.65 1038.23 L365.25 1038.07 L365.86 1037.9 L366.47 1037.73 L367.07 1037.57 L367.68 1037.4 L368.29 1037.23 L368.89 1037.07 L369.5 1036.9 L370.12 1036.77 L370.75 1036.63 L371.37 1036.5 L372 1036.37 L372.62 1036.23 L373.24 1036.1 L373.87 1035.97 L374.49 1035.83 L375.11 1035.7 L375.74 1035.57 L376.36 1035.43 L376.99 1035.3 L377.61 1035.17 L378.23 1035.03 L378.86 1034.9 L379.48 1034.77 L380.1 1034.63 L380.73 1034.5 L381.35 1034.37 L381.98 1034.23 L382.6 1034.1 L383.23 1034.23 L383.87 1034.37 L384.5 1034.5 L385.13 1034.63 L385.77 1034.77 L386.4 1034.9 L387.03 1035.03 L387.67 1035.17 L388.3 1035.3 L388.8 1039.4 L389.41 1039.31 L390.01 1039.21 L390.62 1039.12 L391.23 1039.03 L391.84 1038.94 L392.44 1038.84 L393.05 1038.75 L393.66 1038.66 L394.26 1038.56 L394.87 1038.47 L395.48 1038.38 L396.09 1038.29 L396.69 1038.19 L397.3 1038.1 L398.15 1039.55 L399 1041 L399.63 1040.98 L400.26 1040.95 L400.89 1040.93 L401.52 1040.91 L402.15 1040.88 L402.78 1040.86 L403.42 1040.84 L404.05 1040.82 L404.68 1040.79 L405.31 1040.77 L405.94 1040.75 L406.57 1040.72 L407.2 1040.7 L407.81 1040.77 L408.43 1040.84 L409.04 1040.91 L409.65 1040.97 L410.26 1041.04 L410.88 1041.11 L411.49 1041.18 L412.1 1041.25 L412.71 1041.32 L413.32 1041.39 L413.94 1041.46 L414.55 1041.53 L415.16 1041.59 L415.77 1041.66 L416.39 1041.73 L417 1041.8 L417.6 1042.12 L418.2 1042.44 L418.8 1042.76 L419.4 1043.08 L420 1044.13 L420.62 1042.8 L421.24 1044.15 L421.87 1044.17 L422.49 1042.77 L423.11 1042.8 L423.73 1043.82 L424.36 1044.72 L424.98 1043.96 L425.6 1043.59 L426.6 1048.42 L427.5 1044.68 L428.4 1039.65 L429.03 1039.81 L429.67 1040.07 L430.3 1040.95 L431.25 1044.41 L431.87 1042.75 L432.48 1039.74 L433.1 1038.72 L433.73 1042.71 L434.37 1045.98 L435 1049.99 L435.7 1048.98 L436.4 1046.31 L437.1 1046.21 L437.8 1044.94 L438.46 1044.92 L439.12 1045.88 L439.78 1047.26 L440.44 1047.1 L441.1 1045.94 L441.76 1046.59 L442.42 1047.17 L443.08 1048.62 L443.74 1048 L444.4 1047.65 L445.02 1047.58 L445.63 1045.98 L446.25 1044.58 L446.88 1045.75 L447.5 1046.58 L448.12 1046.06 L448.75 1045.92 L449.38 1044.59 L450 1045.44 L450.62 1045.55 L451.25 1045.77 L451.88 1045.03 L452.5 1044.12 L453.12 1045.99 L453.75 1044.48 L454.38 1045.47 L455 1044.82 L455.62 1045.46 L456.25 1044.44 L456.88 1043.85 L457.5 1044.54 L458.4 1048.36 L459.07 1048.59 L459.74 1047.29 L460.41 1047.42 L461.09 1046.33 L461.76 1046.66 L462.43 1044.98 L463.1 1046.09 L463.73 1046.2 L464.35 1044.15 L464.98 1045.96 L465.6 1045.76 L466.23 1045.54 L466.86 1044.23 L467.48 1045.58 L468.11 1045.64 L468.74 1045.29 L469.36 1046.01 L469.99 1045.95 L470.61 1045.23 L471.24 1045.84 L471.87 1044.1 L472.49 1044.41 L473.12 1044.9 L473.75 1044.85 L474.37 1045.77 L475 1045.05 L475.62 1044.99 L476.25 1044.97 L476.85 1045.62 L477.46 1044.36 L478.06 1045.04 L478.67 1044.68 L479.27 1044.18 L479.88 1043.98 L480.48 1043.51 L481.09 1043.13 L481.69 1043.79 L482.3 1043.65 L482.9 1043.1 L483.51 1043.93 L484.11 1043.58 L484.72 1044.78 L485.32 1044.4 L485.93 1044.08 L486.53 1044.42 L487.14 1043.1 L487.74 1042.69 L488.35 1043.72 L488.95 1042.81 L489.56 1044.42 L490.16 1043.13 L490.77 1044.08 L491.37 1042.61 L491.98 1042.21 L492.58 1043.32 L493.19 1043.41 L493.79 1042.39 L494.4 1043.8 L495 1043.84 L495.62 1043.35 L496.25 1044.13 L496.88 1044.27 L497.5 1042.57 L498.12 1043.99 L498.75 1044.16 L499.38 1044.26 L500 1043.54 L500.62 1044.12 L501.25 1044.35 L501.88 1045.07 L502.5 1043.45 L503.12 1044.29 L503.75 1044.3 L504.38 1045.48 L505 1044.13 L505.62 1044.15 L506.25 1044.4 L506.85 1044.21 L507.45 1044.72 L508.05 1045.47 L508.65 1044.16 L509.25 1043.4 L509.85 1044.46 L510.45 1043.52 L511.05 1043.85 L511.65 1044.05 L512.25 1043.21 L512.85 1043.63 L513.45 1043.19 L514.05 1043.5 L514.65 1043.11 L515.25 1043.22 L515.85 1042.69 L516.45 1041.47 L517.05 1041.77 L517.65 1042.16 L518.25 1042 L518.85 1041.68 L519.45 1041.74 L520.05 1041.5 L520.65 1040.68 L521.25 1040.71 L521.85 1039.38 L522.46 1040.32 L523.06 1040.86 L523.67 1041.26 L524.27 1041.1 L524.88 1040.19 L525.48 1039.71 L526.09 1041.15 L526.69 1040.63 L527.3 1039.59 L527.9 1039.24 L528.51 1041.08 L529.11 1040.4 L529.72 1039.36 L530.32 1041.28 L530.93 1040.39 L531.53 1040.75 L532.14 1040.84 L532.74 1039.62 L533.35 1040.19 L533.95 1039.41 L534.56 1040.36 L535.16 1039.96 L535.77 1040.73 L536.37 1039.23 L536.98 1039.42 L537.58 1039.8 L538.19 1038.94 L538.79 1039.82 L539.4 1041.03 L540 1040.8 L540.61 1039.28 L541.22 1040.69 L541.83 1039.33 L542.44 1039.34 L543.05 1040.2 L543.66 1039.42 L544.27 1039.2 L544.88 1038.92 L545.49 1039.1 L546.1 1039.11 L546.72 1040.68 L547.33 1038.74 L547.94 1039.82 L548.55 1039.07 L549.16 1040.17 L549.77 1038.57 L550.38 1039.36 L550.99 1040.15 L551.6 1038.56 L552.21 1039.39 L552.82 1039.18 L553.43 1039.5 L554.04 1039.8 L554.65 1038.57 L555.26 1040.28 L555.87 1038.95 L556.48 1040.03 L557.09 1038.61 L557.7 1038.5 L558.31 1038.7 L558.92 1038.44 L559.53 1038.78 L560.15 1038.52 L560.76 1038.38 L561.37 1040.04 L561.98 1039.31 L562.59 1039.22 L563.2 1039.22 L563.81 1039.87 L564.42 1038.16 L565.03 1038.14 L565.64 1039.49 L566.25 1038.02 L566.86 1039.07 L567.47 1039.29 L568.08 1039.74 L568.69 1037.82 L569.3 1038.66 L569.91 1038.42 L570.52 1038.97 L571.13 1037.72 L571.74 1039.26 L572.35 1039.66 L572.97 1038.72 L573.58 1038.94 L574.19 1039.26 L574.8 1039.24 L575.41 1039.14 L576.02 1038.36 L576.63 1037.44 L577.24 1038.95 L577.85 1039.02 L578.46 1038.66 L579.07 1037.76 L579.68 1039.17 L580.29 1038.35 L580.9 1037.63 L581.51 1038.62 L582.12 1037.34 L582.73 1037.34 L583.34 1038.75 L583.95 1036.84 L584.56 1038.59 L585.17 1037.5 L585.78 1037.84 L586.4 1038.06 L587.01 1038.48 L587.62 1036.94 L588.23 1036.61 L588.84 1037.49 L589.45 1036.81 L590.06 1037.21 L590.67 1036.48 L591.28 1036.39 L591.89 1037.39 L592.5 1036.21 L593.1 1036.71 L593.7 1037 L594.3 1036.37 L594.9 1037.96 L595.5 1038.19 L596.1 1036.3 L596.7 1038.03 L597.3 1036.66 L597.9 1037.9 L598.5 1036.45 L599.1 1037.98 L599.7 1038.42 L600.3 1036.96 L600.9 1036.77 L601.5 1037.18 L602.1 1038.34 L602.7 1038.19 L603.3 1036.84 L603.9 1038.5 L604.5 1038.17 L605.1 1038.67 L605.7 1038.72 L606.3 1036.95 L606.9 1038.23 L607.5 1036.7 L608.11 1037.04 L608.72 1037.76 L609.33 1037.06 L609.94 1036.99 L610.55 1037.26 L611.16 1037.45 L611.77 1038.43 L612.38 1037.65 L612.99 1037.56 L613.6 1037.88 L614.22 1036.68 L614.83 1038 L615.44 1037.87 L616.05 1037.95 L616.66 1037.12 L617.27 1037.28 L617.88 1036.22 L618.49 1037.03 L619.1 1037.4 L619.71 1038.04 L620.32 1037.89 L620.93 1036.63 L621.54 1037.51 L622.15 1037.7 L622.76 1037.89 L623.37 1037.24 L623.98 1036.43 L624.59 1037.6 L625.2 1035.67 L625.81 1036.85 L626.42 1036.58 L627.03 1037.48 L627.65 1036.87 L628.26 1035.91 L628.87 1035.79 L629.48 1035.47 L630.09 1037.01 L630.7 1037.05 L631.31 1036.11 L631.92 1035.75 L632.53 1036.45 L633.14 1035.61 L633.75 1036.31 L634.37 1035.84 L635 1035.73 L635.62 1036.48 L636.24 1035.44 L636.87 1035.56 L637.49 1036.01 L638.11 1036.78 L638.74 1034.97 L639.36 1035.25 L639.98 1035.12 L640.61 1035.15 L641.23 1035.46 L641.85 1036.13 L642.48 1034.66 L643.1 1035.78 L643.73 1035.23 L644.35 1035.62 L644.98 1035.55 L645.61 1035.85 L646.24 1035 L646.86 1036.05 L647.49 1035.66 L648.12 1036.58 L648.75 1036.25 L649.37 1035.92 L650 1037.27 L650.65 1035.8 L651.29 1035.75 L651.94 1036.3 L652.58 1037.85 L653.23 1036.85 L653.87 1038.57 L654.52 1037.46 L655.16 1038.23 L655.81 1039.25 L656.45 1038.24 L657.1 1039.45 L657.73 1040.54 L658.36 1039.78 L658.99 1038.87 L659.61 1039.85 L660.24 1038.94 L660.87 1039.31 L661.5 1038.12 L662.13 1038.04 L662.76 1038.58 L663.39 1038.55 L664.01 1038.24 L664.64 1036.89 L665.27 1037.32 L665.9 1036.93 L666.53 1036.58 L667.16 1036.17 L667.79 1037.39 L668.41 1035.9 L669.04 1036.2 L669.67 1035.3 L670.3 1036.65 L670.92 1036.4 L671.53 1035.12 L672.15 1036.97 L672.77 1036.99 L673.39 1036.38 L674 1036.43 L674.62 1036.13 L675.24 1034.56 L675.86 1035.04 L676.47 1034.88 L677.09 1034.33 L677.71 1035.62 L678.33 1035.44 L678.94 1034.86 L679.56 1035.64 L680.18 1034.43 L680.8 1034.46 L681.41 1034.02 L682.03 1034.21 L682.65 1035.49 L683.27 1034.63 L683.88 1035.09 L684.5 1035.31 L685.11 1034.91 L685.73 1034.29 L686.34 1035.67 L686.96 1033.77 L687.57 1034.55 L688.18 1035.64 L688.8 1035.24 L689.41 1034.57 L690.03 1035.66 L690.64 1035.56 L691.25 1035.53 L691.87 1034.57 L692.48 1035.53 L693.1 1035.53 L693.71 1035.98 L694.32 1035.31 L694.94 1036.27 L695.55 1035.86 L696.17 1034.79 L696.78 1035.65 L697.39 1034.86 L698.01 1035.83 L698.62 1035.24 L699.23 1036.77 L699.85 1035.37 L700.46 1036.41 L701.08 1036.56 L701.69 1035.59 L702.3 1036.11 L702.92 1035.38 L703.53 1035.74 L704.15 1035.93 L704.76 1036.58 L705.37 1036.18 L705.99 1035.46 L706.6 1036.59 L707.22 1036.34 L707.83 1036.41 L708.44 1036.28 L709.06 1037.26 L709.67 1036.84 L710.29 1036.91 L710.9 1036.6 L711.51 1036.36 L712.12 1036.4 L712.73 1036.93 L713.34 1036.38 L713.95 1035.54 L714.56 1035.85 L715.17 1035.46 L715.78 1035.43 L716.39 1036.09 L717 1036.11 L717.61 1036.26 L718.22 1035.68 L718.83 1035.73 L719.44 1036.18 L720.05 1035.81 L720.66 1035.72 L721.27 1036.21 L721.88 1036.78 L722.49 1035.22 L723.1 1035.09 L723.71 1036.02 L724.32 1036.98 L724.93 1036.38 L725.54 1035.77 L726.15 1037.09 L726.76 1036.42 L727.37 1036.72 L727.98 1036.74 L728.59 1034.95 L729.2 1035.27 L729.81 1036.56 L730.42 1035.66 L731.03 1036.75 L731.64 1034.91 L732.25 1036.79 L732.86 1036.07 L733.47 1035.59 L734.08 1036.49 L734.69 1035.82 L735.3 1035.63 L735.91 1035 L736.52 1036.3 L737.13 1034.88 L737.74 1035.19 L738.35 1034.7 L738.96 1034.52 L739.57 1035.12 L740.18 1034.54 L740.79 1035.45 L741.4 1035.16 L742.02 1034.21 L742.65 1034.96 L743.27 1034.34 L743.89 1033.99 L744.52 1034.44 L745.14 1033.75 L745.76 1032.9 L746.38 1034.6 L747.01 1034.46 L747.63 1032.61 L748.25 1033.31 L748.88 1032.92 L749.5 1031.95 L750.12 1032.55 L750.73 1031.92 L751.35 1031.91 L751.96 1032.28 L752.58 1031.35 L753.19 1031.72 L753.81 1033.35 L754.42 1032.85 L755.04 1031.86 L755.65 1033.29 L756.27 1031.79 L756.88 1032.91 L757.5 1031.72 L758.11 1032.94 L758.73 1031.94 L759.34 1032.83 L759.96 1031.19 L760.57 1031.72 L761.19 1031.58 L761.8 1032.51 L762.42 1032.67 L763.03 1031.03 L763.65 1031.61 L764.26 1031.05 L764.88 1030.79 L765.49 1030.9 L766.11 1030.74 L766.72 1031.22 L767.34 1031.47 L767.95 1032.48 L768.57 1031.89 L769.18 1032.1 L769.8 1031.13 L770.41 1031.16 L771.01 1031.41 L771.62 1031.07 L772.22 1030.66 L772.83 1031.28 L773.43 1032.77 L774.04 1030.89 L774.64 1031.94 L775.25 1031.4 L775.85 1032.62 L776.46 1031.08 L777.06 1032.17 L777.67 1032.7 L778.28 1032.17 L778.88 1031.53 L779.49 1033.22 L780.09 1031.36 L780.7 1033.41 L781.3 1033.23 L781.91 1033.43 L782.51 1033.44 L783.12 1032.4 L783.72 1033.02 L784.33 1032.73 L784.94 1033.04 L785.54 1032.64 L786.15 1033.74 L786.75 1032.59 L787.36 1033.2 L787.96 1032.17 L788.57 1032.2 L789.17 1034.08 L789.78 1032.97 L790.38 1033.06 L790.99 1034.46 L791.59 1033.94 L792.2 1032.74 L793 1036.64 L793.8 1039.56 L794.41 1038.8 L795.02 1037.05 L795.64 1036.03 L796.25 1036.48 L796.86 1035.88 L797.46 1035.95 L798.06 1036.43 L798.67 1036.73 L799.27 1035.64 L799.88 1037.14 L800.49 1036.65 L801.09 1036.09 L801.69 1036.63 L802.3 1038.28 L802.9 1037.57 L803.5 1037.3 L804.1 1036.03 L804.7 1035.93 L805.3 1035.01 L805.9 1035.37 L806.5 1034.54 L807.1 1033.75 L807.7 1034.73 L808.3 1033.29 L808.9 1031.88 L809.5 1033.19 L810.17 1032.29 L810.83 1033.38 L811.5 1034.45 L812.17 1034.6 L812.83 1035.81 L813.5 1036.47 L814.14 1036.28 L814.77 1036.16 L815.41 1035.85 L816.05 1034.06 L816.69 1034.08 L817.33 1033.43 L817.96 1033.52 L818.6 1033.41 L819.28 1034.79 L819.97 1033.46 L820.65 1035.73 L821.33 1034.81 L822.02 1036.61 L822.7 1037.37 L823.31 1037.26 L823.91 1035.95 L824.51 1034.39 L825.12 1034.49 L825.73 1034.41 L826.33 1034.52 L826.94 1034.76 L827.54 1034.15 L828.14 1031.95 L828.75 1031.68 L829.38 1033.4 L830.01 1032.98 L830.64 1034.37 L831.27 1034.77 L831.91 1035.41 L832.54 1035.54 L833.17 1037.34 L833.8 1036.55 L834.4 1036.4 L835 1035.67 L835.6 1035.66 L836.2 1035.03 L836.8 1035.85 L837.4 1034.2 L838 1034.39 L838.6 1035.34 L839.2 1035.15 L839.8 1033.73 L840.4 1034.31 L841 1034.18 L841.64 1033.47 L842.27 1033.04 L842.91 1032.97 L843.55 1031.65 L844.18 1031.31 L844.82 1030.78 L845.45 1030.36 L846.09 1030.62 L846.73 1030.31 L847.36 1029.18 L848 1028.59 L848.62 1029.25 L849.24 1030.47 L849.86 1031.14 L850.48 1032.97 L851.1 1034.19 L851.71 1033.73 L852.32 1034.13 L852.93 1033.79 L853.54 1033.18 L854.15 1034.82 L854.76 1035.01 L855.37 1033.81 L855.98 1034.32 L856.59 1035.3 L857.2 1035.5 L857.81 1034.47 L858.42 1035.11 L859.03 1035.26 L859.64 1035.77 L860.25 1036.53 L860.86 1035.2 L861.47 1035.86 L862.08 1037.22 L862.69 1035.74 L863.3 1035.89 L863.97 1037.56 L864.63 1037.54 L865.3 1037.55 L865.97 1037.84 L866.63 1037.3 L867.3 1038.91 L867.98 1039.7 L868.67 1041.7 L869.35 1044.39 L870.03 1045.06 L870.72 1046.45 L871.4 1047.98 L872.08 1047.98 L872.77 1048.86 L873.45 1049.23 L874.13 1048.05 L874.82 1047.96 L875.5 1048.97 L876.11 1047.81 L876.72 1048.12 L877.33 1046.5 L877.94 1046.61 L878.55 1045.89 L879.16 1046.34 L879.77 1044.25 L880.38 1043.48 L880.99 1042.99 L881.6 1043.05 L882.21 1043.3 L882.82 1044.47 L883.43 1046.67 L884.04 1047.44 L884.65 1047.61 L885.26 1050.48 L885.87 1050.07 L886.48 1051.61 L887.09 1053.33 L887.7 1054.3 L888.33 1054.28 L888.95 1052.21 L889.58 1052.62 L890.2 1050.87 L890.83 1050.02 L891.45 1050.6 L892.08 1050.06 L892.7 1047.89 L893.35 1046.52 L894 1045.68 L894.65 1045.3 L895.3 1042.9 L895.95 1043.72 L896.6 1040.46 L897.25 1040.85 L897.9 1039.78 L898.55 1037.65 L899.2 1037.4 L899.85 1034.79 L900.52 1037.64 L901.19 1038.74 L901.86 1040.89 L902.53 1042.31 L903.2 1043.83 L903.9 1042.95 L904.6 1040.56 L905.3 1039.02 L906 1038.28 L906.7 1038.49 L907.4 1036.94 L908.06 1036.1 L908.73 1035.27 L909.39 1033.49 L910.05 1034.69 L910.71 1033.11 L911.38 1032.36 L912.04 1031.37 L912.7 1031.45 L913.33 1029.37 L913.97 1028.35 L914.6 1027.76 L915.23 1025.16 L915.87 1025.48 L916.5 1023.87 L917.12 1024.18 L917.75 1024.73 L918.38 1026.48 L919 1026.95 L919.6 1025.95 L920.2 1027.4 L920.8 1026.87 L921.4 1026.85 L922 1026.19 L922.6 1025.05 L923.2 1025.81 L923.85 1024.04 L924.49 1023.78 L925.14 1023.95 L925.78 1024.12 L926.43 1022.56 L927.08 1022.17 L927.72 1023.8 L928.37 1021.49 L929.02 1022.8 L929.66 1021.91 L930.31 1022.7 L930.95 1022.18 L931.6 1021.02 L932.24 1021.84 L932.88 1022.81 L933.52 1022.49 L934.16 1022.6 L934.8 1025.38 L935.44 1023.54 L936.08 1023.24 L936.72 1021.8 L937.36 1019.93 L938 1019.13 L938.61 1019.19 L939.22 1020.57 L939.83 1020.02 L940.43 1018.64 L941.04 1018.76 L941.65 1019.68 L942.26 1018.44 L942.87 1017.8 L943.47 1018.04 L944.08 1017.02 L944.69 1017.68 L945.3 1016.36 L945.92 1017.27 L946.53 1016.29 L947.15 1016.05 L947.76 1017.55 L948.38 1016.92 L948.99 1016.08 L949.61 1016.52 L950.23 1017.52 L950.84 1016.28 L951.46 1016.01 L952.07 1016.39 L952.69 1017.22 L953.31 1016.53 L953.92 1016.14 L954.54 1016.4 L955.15 1015.71 L955.77 1016.91 L956.38 1015.38 L957 1015.18 L957.6 1015.77 L958.2 1016.46 L958.8 1016.4 L959.4 1016.15 L960 1014.7 L960.6 1016.46 L961.2 1016.71 L961.8 1014.98 L962.4 1015.13 L963 1015.18 L963.6 1014.99 L964.2 1015.02 L964.8 1015.8 L965.4 1016.23 L966 1015.72 L966.6 1015.89 L967.2 1016.21 L967.8 1016.51 L968.4 1016.84 L969 1016.25 L969.6 1015.79 L970.2 1014.8 L970.81 1015.29 L971.41 1015.04 L972.02 1016.7 L972.62 1016.16 L973.23 1014.81 L973.83 1015.24 L974.44 1015.4 L975.04 1015.82 L975.65 1016.56 L976.25 1015.12 L976.86 1015.89 L977.46 1015.24 L978.07 1016.29 L978.67 1015.37 L979.28 1015.93 L979.88 1015.5 L980.49 1015.77 L981.09 1015.82 L981.7 1014.99 L982.3 1015.08 L982.93 1015.95 L983.56 1016.63 L984.19 1016.84 L984.82 1016.81 L985.45 1017.58 L986.08 1018.1 L986.71 1018.3 L987.34 1018.65 L987.97 1018.56 L988.6 1019.05 L989.3 1019.36 L990 1019.33 L990.7 1020.07 L991.4 1021.5 L992.1 1020.36 L992.8 1021.61 L993.43 1021.89 L994.06 1023.21 L994.69 1023.37 L995.32 1024.83 L995.95 1025.27 L996.58 1024.45 L997.21 1025.07 L997.84 1027.95 L998.47 1027.37 L999.1 1028.84 L999.72 1029.81 L1000.35 1030.19 L1000.97 1029.48 L1001.59 1029.36 L1002.22 1030.24 L1002.84 1030.79 L1003.46 1029.77 L1004.09 1031.64 L1004.71 1030.19 L1005.34 1031.34 L1005.96 1032.65 L1006.58 1033.06 L1007.21 1033.31 L1007.83 1033.63 L1008.45 1033.03 L1009.08 1033.28 L1009.7 1033.7 L1010.31 1033.92 L1010.93 1033.39 L1011.54 1033.86 L1012.15 1034.23 L1012.76 1033.35 L1013.38 1034.7 L1013.99 1033.71 L1014.6 1034.93 L1015.21 1033.96 L1015.83 1034.37 L1016.44 1035.1 L1017.05 1035.9 L1017.66 1036.53 L1018.28 1036.17 L1018.89 1036.42 L1019.5 1035.71 L1020.11 1036.02 L1020.73 1036.22 L1021.34 1037.28 L1021.95 1037.14 L1022.56 1035.43 L1023.18 1037.06 L1023.79 1037.25 L1024.4 1037.76 L1025.02 1037.76 L1025.65 1036.5 L1026.27 1036.45 L1026.89 1035.97 L1027.52 1035.78 L1028.14 1037.2 L1028.76 1036.81 L1029.39 1036.92 L1030.01 1035.72 L1030.64 1036.6 L1031.26 1034.86 L1031.88 1035.84 L1032.51 1035.34 L1033.13 1035.23 L1033.75 1036.65 L1034.38 1034.4 L1035 1036.4 L1035.6 1035.76 L1036.2 1036.46 L1036.81 1035.16 L1037.41 1036.24 L1038.01 1035.46 L1038.61 1035.5 L1039.21 1035.61 L1039.81 1034.79 L1040.42 1035.54 L1041.02 1034.58 L1041.62 1034.25 L1042.22 1035.76 L1042.82 1034.22 L1043.42 1036.18 L1044.03 1034.64 L1044.63 1036.13 L1045.23 1034.79 L1045.83 1035.68 L1046.43 1034.84 L1047.04 1035.61 L1047.64 1034.47 L1048.24 1034.57 L1048.84 1034.64 L1049.44 1036.2 L1050.04 1036.02 L1050.65 1034.87 L1051.25 1036.12 L1051.85 1036.06 L1052.45 1034.3 L1053.05 1035.34 L1053.66 1034.43 L1054.26 1034.72 L1054.86 1034.62 L1055.46 1034.43 L1056.06 1035.22 L1056.66 1034.39 L1057.27 1034.63 L1057.87 1034.2 L1058.47 1034.47 L1059.07 1035.58 L1059.67 1034.49 L1060.28 1035.98 L1060.88 1034.08 L1061.48 1033.89 L1062.08 1034.37 L1062.68 1034.94 L1063.28 1034.48 L1063.89 1034.67 L1064.49 1035.42 L1065.09 1035.22 L1065.69 1034.28 L1066.29 1035.68 L1066.89 1034.53 L1067.5 1034.98 L1068.1 1034.5 L1068.7 1035.37 L1069.3 1034.95 L1069.91 1034.75 L1070.51 1034.02 L1071.11 1033.78 L1071.71 1034.17 L1072.32 1035.44 L1072.92 1035.59 L1073.52 1034.42 L1074.13 1033.67 L1074.73 1033.92 L1075.33 1035.52 L1075.93 1033.73 L1076.54 1034.34 L1077.14 1033.56 L1077.74 1034.47 L1078.35 1034.12 L1078.95 1035.5 L1079.55 1035.48 L1080.15 1034.4 L1080.76 1035.11 L1081.36 1034.73 L1081.96 1034.25 L1082.57 1034.9 L1083.17 1033.26 L1083.77 1033.53 L1084.37 1034.96 L1084.98 1034.26 L1085.58 1034.6 L1086.18 1034.41 L1086.79 1034.91 L1087.39 1033.59 L1087.99 1033.4 L1088.59 1033.63 L1089.2 1034.88 L1089.8 1034.06 L1090.4 1034.61 L1091.01 1034.61 L1091.61 1033.64 L1092.21 1034.49 L1092.81 1034.57 L1093.42 1033.94 L1094.02 1033.96 L1094.62 1033.81 L1095.23 1033.76 L1095.83 1033.2 L1096.43 1033.98 L1097.03 1034.58 L1097.64 1033.23 L1098.24 1033.57 L1098.84 1033.45 L1099.45 1033.26 L1100.05 1034.62 L1100.65 1034.17 L1101.25 1032.73 L1101.86 1033.66 L1102.46 1033.27 L1103.06 1033.28 L1103.67 1032.7 L1104.27 1033.76 L1104.87 1033.21 L1105.47 1033.88 L1106.08 1032.64 L1106.68 1033.49 L1107.28 1033.3 L1107.89 1033.71 L1108.49 1032.42 L1109.09 1034 L1109.69 1033.4 L1110.3 1032.77 L1110.9 1032.57 L1111.51 1033.99 L1112.12 1032.23 L1112.73 1033.49 L1113.34 1032.88 L1113.95 1032.95 L1114.56 1034.33 L1115.17 1032.5 L1115.78 1032.61 L1116.39 1032.22 L1117 1033 L1117.61 1032.37 L1118.22 1032.3 L1118.83 1033.7 L1119.43 1034.28 L1120.04 1032.57 L1120.65 1033.52 L1121.26 1034.32 L1121.87 1032.59 L1122.48 1032.54 L1123.09 1033.31 L1123.7 1032.31 L1124.31 1033.48 L1124.92 1034.03 L1125.53 1034.14 L1126.14 1032.45 L1126.75 1033.42 L1127.36 1033.31 L1127.97 1033.19 L1128.58 1032.6 L1129.19 1033.53 L1129.8 1032.54 L1130.41 1033.7 L1131.02 1032.4 L1131.63 1032.2 L1132.24 1034.08 L1132.85 1032.94 L1133.46 1033.1 L1134.07 1033.33 L1134.67 1033.25 L1135.28 1032.24 L1135.89 1034 L1136.5 1034.35 L1137.11 1032.87 L1137.72 1032.83 L1138.33 1032.81 L1138.94 1033.65 L1139.55 1033.36 L1140.16 1033.43 L1140.77 1033.54 L1141.38 1032.77 L1141.99 1033.34 L1142.6 1033.37 L1143.3 1034.58 L1144 1035.61 L1144.7 1037.36 L1145.33 1035.49 L1145.96 1036.32 L1146.59 1036.5 L1147.22 1035.55 L1147.85 1036.02 L1148.48 1035.74 L1149.11 1036.4 L1149.74 1036.75 L1150.37 1035.78 L1151 1036.22 L1151.66 1035.21 L1152.33 1035.2 L1152.99 1036.03 L1153.65 1035.35 L1154.31 1033.75 L1154.97 1033.25 L1155.64 1032.45 L1156.3 1033.54 L1156.9 1033.64 L1157.5 1031.7 L1158.1 1032.58 L1158.7 1032.48 L1159.3 1032.13 L1159.9 1033.06 L1160.5 1033.42 L1161.1 1032.41 L1161.7 1033.76 L1162.3 1032.94 L1162.9 1032.13 L1163.5 1033.11 L1164.1 1031.89 L1164.7 1032.51 L1165.3 1032.87 L1165.9 1032.01 L1166.5 1031.83 L1167.1 1032.43 L1167.7 1033.49 L1168.3 1032.05 L1168.9 1032.64 L1169.5 1032.7" fill="none" stroke="#b22222" stroke-width="1.1" stroke-linejoin="round"/>
</g>
<path d="M1169.5 709.5 L129.5 709.5 L129.5 1217.5" fill="none" stroke="#000" stroke-width="1.1"/>
<line x1="129.5" y1="1217.5" x2="1169.5" y2="1217.5" stroke="#000" stroke-width="1.1"/>
<line x1="1169.5" y1="709.5" x2="1169.5" y2="1217.5" stroke="#b22222" stroke-width="1.1"/>
<line x1="195.5" y1="1217.5" x2="195.5" y2="1222.36" stroke="#000" stroke-width="1.1"/>
<line x1="370.5" y1="1217.5" x2="370.5" y2="1222.36" stroke="#000" stroke-width="1.1"/>
<line x1="545.5" y1="1217.5" x2="545.5" y2="1222.36" stroke="#000" stroke-width="1.1"/>
<line x1="720.5" y1="1217.5" x2="720.5" y2="1222.36" stroke="#000" stroke-width="1.1"/>
<line x1="895.5" y1="1217.5" x2="895.5" y2="1222.36" stroke="#000" stroke-width="1.1"/>
<line x1="1070.5" y1="1217.5" x2="1070.5" y2="1222.36" stroke="#000" stroke-width="1.1"/>
<path d="M129.5 1185.51 H124.64 M129.5 1041.31 H124.64 M129.5 897.11 H124.64 M129.5 752.91 H124.64" stroke="#000" stroke-width="1.1" fill="none"/>
<path d="M129.5 1217.5 H126.72 M129.5 1207.85 H126.72 M129.5 1199.48 H126.72 M129.5 1192.11 H126.72 M129.5 1142.1 H126.72 M129.5 1116.71 H126.72 M129.5 1098.69 H126.72 M129.5 1084.72 H126.72 M129.5 1073.3 H126.72 M129.5 1063.65 H126.72 M129.5 1055.28 H126.72 M129.5 1047.91 H126.72 M129.5 997.9 H126.72 M129.5 972.51 H126.72 M129.5 954.49 H126.72 M129.5 940.52 H126.72 M129.5 929.1 H126.72 M129.5 919.45 H126.72 M129.5 911.08 H126.72 M129.5 903.71 H126.72 M129.5 853.7 H126.72 M129.5 828.31 H126.72 M129.5 810.29 H126.72 M129.5 796.32 H126.72 M129.5 784.9 H126.72 M129.5 775.25 H126.72 M129.5 766.88 H126.72 M129.5 759.51 H126.72 M129.5 709.5 H126.72" stroke="#000" stroke-width="0.9" fill="none"/>
<path d="M1169.5 1217.5 H1174.36 M1169.5 1090.5 H1174.36 M1169.5 963.5 H1174.36 M1169.5 836.5 H1174.36 M1169.5 709.5 H1174.36" stroke="#b22222" stroke-width="1.1" fill="none"/>
<path d="M1169.5 1179.27 H1172.28 M1169.5 1156.91 H1172.28 M1169.5 1141.04 H1172.28 M1169.5 1128.73 H1172.28 M1169.5 1118.67 H1172.28 M1169.5 1110.17 H1172.28 M1169.5 1102.81 H1172.28 M1169.5 1096.31 H1172.28 M1169.5 1052.27 H1172.28 M1169.5 1029.91 H1172.28 M1169.5 1014.04 H1172.28 M1169.5 1001.73 H1172.28 M1169.5 991.67 H1172.28 M1169.5 983.17 H1172.28 M1169.5 975.81 H1172.28 M1169.5 969.31 H1172.28 M1169.5 925.27 H1172.28 M1169.5 902.91 H1172.28 M1169.5 887.04 H1172.28 M1169.5 874.73 H1172.28 M1169.5 864.67 H1172.28 M1169.5 856.17 H1172.28 M1169.5 848.81 H1172.28 M1169.5 842.31 H1172.28 M1169.5 798.27 H1172.28 M1169.5 775.91 H1172.28 M1169.5 760.04 H1172.28 M1169.5 747.73 H1172.28 M1169.5 737.67 H1172.28 M1169.5 729.17 H1172.28 M1169.5 721.81 H1172.28 M1169.5 715.31 H1172.28" stroke="#000" stroke-width="0.9" fill="none"/>
<text x="83.8" y="1194.81" font-family="'Liberation Serif', serif" font-size="27.78" letter-spacing="-1.6" fill="#000">10</text>
<text x="110.3" y="1184.71" font-family="'Liberation Serif', serif" font-size="19.44" fill="#000">2</text>
<text x="83.8" y="1050.61" font-family="'Liberation Serif', serif" font-size="27.78" letter-spacing="-1.6" fill="#000">10</text>
<text x="110.3" y="1040.51" font-family="'Liberation Serif', serif" font-size="19.44" fill="#000">3</text>
<text x="83.8" y="906.41" font-family="'Liberation Serif', serif" font-size="27.78" letter-spacing="-1.6" fill="#000">10</text>
<text x="110.3" y="896.31" font-family="'Liberation Serif', serif" font-size="19.44" fill="#000">4</text>
<text x="83.8" y="762.21" font-family="'Liberation Serif', serif" font-size="27.78" letter-spacing="-1.6" fill="#000">10</text>
<text x="110.3" y="752.11" font-family="'Liberation Serif', serif" font-size="19.44" fill="#000">5</text>
<text x="1179" y="1226.8" font-family="'Liberation Serif', serif" font-size="27.78" letter-spacing="-1.6" fill="#b22222">10</text>
<text x="1205.5" y="1216.7" font-family="'Liberation Serif', serif" font-size="19.44" fill="#b22222">0</text>
<text x="1179" y="1099.8" font-family="'Liberation Serif', serif" font-size="27.78" letter-spacing="-1.6" fill="#b22222">10</text>
<text x="1205.5" y="1089.7" font-family="'Liberation Serif', serif" font-size="19.44" fill="#b22222">1</text>
<text x="1179" y="972.8" font-family="'Liberation Serif', serif" font-size="27.78" letter-spacing="-1.6" fill="#b22222">10</text>
<text x="1205.5" y="962.7" font-family="'Liberation Serif', serif" font-size="19.44" fill="#b22222">2</text>
<text x="1179" y="845.8" font-family="'Liberation Serif', serif" font-size="27.78" letter-spacing="-1.6" fill="#b22222">10</text>
<text x="1205.5" y="835.7" font-family="'Liberation Serif', serif" font-size="19.44" fill="#b22222">3</text>
<text x="1179" y="718.8" font-family="'Liberation Serif', serif" font-size="27.78" letter-spacing="-1.6" fill="#b22222">10</text>
<text x="1205.5" y="708.7" font-family="'Liberation Serif', serif" font-size="19.44" fill="#b22222">4</text>
<g transform="translate(0 566)">
<text transform="translate(59.9 397.8) rotate(-90)" font-family="'Liberation Serif', serif" font-size="33.33" fill="#000">(mb)</text>
<rect x="52.95" y="409" width="2.0" height="52.8" fill="#000"/>
<g transform="translate(46.1 461.8) rotate(-90)"><text font-family="'Liberation Serif', serif" font-size="23.33" font-style="italic" fill="#000"><tspan x="0" y="0">dN</tspan><tspan x="33.7" y="0">dt</tspan></text><line x1="27.0" y1="-0.2" x2="33.5" y2="-16.3" stroke="#000" stroke-width="1.7"/></g>
<circle cx="62.1" cy="432.1" r="1.2" fill="#000"/>
<path d="M62.9 431.1 C61.9 429.9 59.9 430.1 59.3 432.0 C58.9 433.4 59.3 434.8 60.3 435.7" fill="none" stroke="#000" stroke-width="1.1"/>
<path d="M59.8 434.8 C61.5 435.9 63.5 436.8 65.5 437.3 C68 438.0 70.5 438.9 72 439.6 C73 440.3 73.6 441.2 73.9 442.3 L73.2 443.0 C72.5 442.2 71.8 441.7 71 441.4 C69.5 440.9 67.5 440.2 65 439.3 C63 438.7 61.2 437.6 59.8 435.8 Z" fill="#000"/>
<path d="M71.6 429.0 C72.4 429.7 73.0 430.5 73.2 431.2 C73.8 432.4 74.1 433.4 74.0 434.3 C73.9 435.5 73.6 436.5 73.3 437.5 C73.0 438.5 72.7 439.5 72.4 440.5 L71.6 440.2 C71.8 439.2 72.0 438.0 72.2 437.0 C72.4 436.1 72.6 435.2 72.6 434.3 C72.6 433.4 72.5 432.5 72.2 431.7 C71.9 431.0 71.5 430.2 71.0 429.5 Z" fill="#000"/>
</g>
<text transform="translate(1242 965.05) rotate(-90)" text-anchor="middle" font-family="'Liberation Serif', serif" font-size="33.5" fill="#b22222">BLM B2 beam lifetime (h)</text>
<rect x="920.6" y="723.5" width="235.2" height="89.6" rx="5" ry="5" fill="#fff" fill-opacity="0.8" stroke="#d3d3d3" stroke-width="1.1"/>
<line x1="930.9" y1="743.8" x2="988.2" y2="743.8" stroke="#ff0000" stroke-width="2.08"/>
<line x1="930.9" y1="785.7" x2="988.2" y2="785.7" stroke="#000" stroke-width="2.08"/>
<text x="1008.8" y="753.8" font-family="'Liberation Serif', serif" font-size="27.78" fill="#000">Beam 2</text>
<text transform="translate(1010.5 795) scale(1 0.82)" font-family="'Liberation Serif', serif" font-size="27.78" font-style="italic" fill="#000">σ</text>
<text x="1023.6" y="797.9" font-family="'Liberation Serif', serif" font-size="20" font-style="italic" fill="#000">inel</text>
<rect x="1055" y="783.9" width="16.9" height="1.7" fill="#000"/><rect x="1055" y="790.2" width="16.9" height="1.7" fill="#000"/>
<text x="1073.6" y="795" font-family="'Liberation Serif', serif" font-size="27.78" fill="#000">80 mb</text>
<text transform="translate(466 150.3) rotate(-90)" font-family="'Liberation Serif', serif" font-size="16.9" fill="#000">STABLE</text>
<text x="195.5" y="1243.9" text-anchor="middle" font-family="'Liberation Serif', serif" font-size="27.78" fill="#000">10 05:15</text>
<text x="370.5" y="1243.9" text-anchor="middle" font-family="'Liberation Serif', serif" font-size="27.78" fill="#000">10 05:20</text>
<text x="545.5" y="1243.9" text-anchor="middle" font-family="'Liberation Serif', serif" font-size="27.78" fill="#000">10 05:25</text>
<text x="720.5" y="1243.9" text-anchor="middle" font-family="'Liberation Serif', serif" font-size="27.78" fill="#000">10 05:30</text>
<text x="895.5" y="1243.9" text-anchor="middle" font-family="'Liberation Serif', serif" font-size="27.78" fill="#000">10 05:35</text>
<text x="1070.5" y="1243.9" text-anchor="middle" font-family="'Liberation Serif', serif" font-size="27.78" fill="#000">10 05:40</text>
</svg>
</body></html>
